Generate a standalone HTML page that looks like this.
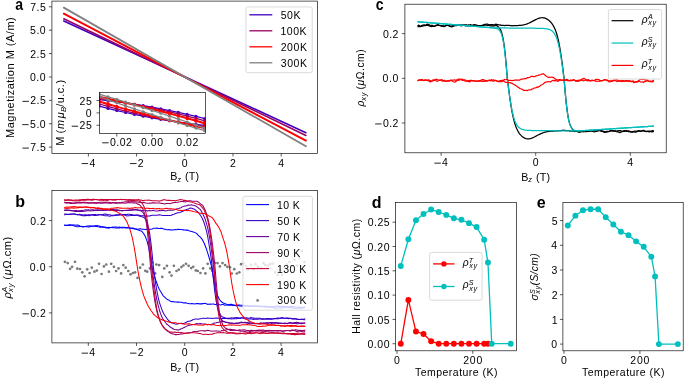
<!DOCTYPE html>
<html><head><meta charset="utf-8"><style>
html,body{margin:0;padding:0;background:#fff;}
svg{display:block;font-family:"Liberation Sans", sans-serif;will-change:transform;}
text{fill:#000;}
</style></head><body>
<svg width="685" height="379" viewBox="0 0 685 379">
<rect width="685" height="379" fill="#fff"/>
<defs>
<clipPath id="ca"><rect x="51.8" y="1.4" width="265.5" height="151.9"/></clipPath>
<clipPath id="cai"><rect x="99.5" y="92.5" width="106" height="41"/></clipPath>
<clipPath id="cb"><rect x="51.7" y="190.8" width="265.6" height="152.1"/></clipPath>
<clipPath id="cc"><rect x="405" y="3.8" width="261.5" height="149.2"/></clipPath>
<clipPath id="cd"><rect x="395.7" y="202.5" width="120.8" height="148.1"/></clipPath>
<clipPath id="ce"><rect x="562.8" y="202.5" width="120.4" height="148.1"/></clipPath>
</defs>

<g clip-path="url(#ca)">
<path d="M63.8,20.9 L305.9,132.7" fill="none" stroke="#4000c0" stroke-width="1.6" stroke-linejoin="round" stroke-linecap="round"/>
<path d="M63.8,18.8 L305.9,135.5" fill="none" stroke="#990066" stroke-width="1.6" stroke-linejoin="round" stroke-linecap="round"/>
<path d="M63.8,13.7 L305.9,140.6" fill="none" stroke="#ff0000" stroke-width="1.9" stroke-linejoin="round" stroke-linecap="round"/>
<path d="M63.8,7.6 L305.9,146.3" fill="none" stroke="#808080" stroke-width="1.8" stroke-linejoin="round" stroke-linecap="round"/>
</g>
<line x1="48.92" y1="6.81" x2="51.92" y2="6.81" stroke="#000" stroke-width="0.65"/>
<text x="30.2" y="10.94" font-size="10.51" letter-spacing="0.47" >7.5</text>
<line x1="48.92" y1="30.2" x2="51.92" y2="30.2" stroke="#000" stroke-width="0.65"/>
<text x="30.05" y="34.32" font-size="10.51" letter-spacing="0.53" >5.0</text>
<line x1="48.92" y1="53.59" x2="51.92" y2="53.59" stroke="#000" stroke-width="0.65"/>
<text x="30.2" y="57.71" font-size="10.51" letter-spacing="0.47" >2.5</text>
<line x1="48.92" y1="76.97" x2="51.92" y2="76.97" stroke="#000" stroke-width="0.65"/>
<text x="29.95" y="81.09" font-size="10.51" letter-spacing="0.58" >0.0</text>
<line x1="48.92" y1="100.35" x2="51.92" y2="100.35" stroke="#000" stroke-width="0.65"/>
<rect x="22.45" y="100.88" width="6.45" height="0.85" fill="#000"/>
<text x="30.2" y="104.48" font-size="10.51" letter-spacing="0.47" >2.5</text>
<line x1="48.92" y1="123.74" x2="51.92" y2="123.74" stroke="#000" stroke-width="0.65"/>
<rect x="22.2" y="124.26" width="6.45" height="0.85" fill="#000"/>
<text x="30.05" y="127.86" font-size="10.51" letter-spacing="0.53" >5.0</text>
<line x1="48.92" y1="147.12" x2="51.92" y2="147.12" stroke="#000" stroke-width="0.65"/>
<rect x="22.45" y="147.65" width="6.45" height="0.85" fill="#000"/>
<text x="30.2" y="151.25" font-size="10.51" letter-spacing="0.47" >7.5</text>
<line x1="88.4" y1="153.5" x2="88.4" y2="156.5" stroke="#000" stroke-width="0.65"/>
<rect x="81.68" y="163.2" width="6.45" height="0.85" fill="#000"/>
<text x="89.42" y="166.8" font-size="10.51" letter-spacing="0" >4</text>
<line x1="136.6" y1="153.5" x2="136.6" y2="156.5" stroke="#000" stroke-width="0.65"/>
<rect x="130.1" y="163.2" width="6.45" height="0.85" fill="#000"/>
<text x="137.85" y="166.8" font-size="10.51" letter-spacing="0" >2</text>
<line x1="184.8" y1="153.5" x2="184.8" y2="156.5" stroke="#000" stroke-width="0.65"/>
<text x="181.8" y="166.8" font-size="10.51" letter-spacing="0" >0</text>
<line x1="233" y1="153.5" x2="233" y2="156.5" stroke="#000" stroke-width="0.65"/>
<text x="230.12" y="166.8" font-size="10.51" letter-spacing="0" >2</text>
<line x1="281.2" y1="153.5" x2="281.2" y2="156.5" stroke="#000" stroke-width="0.65"/>
<text x="278.23" y="166.8" font-size="10.51" letter-spacing="0" >4</text>
<text x="170.22" y="180.2" font-size="10.71" letter-spacing="0" >B</text>
<text x="177.2" y="181.8" font-size="7.52" font-style="italic" letter-spacing="0" >z</text>
<text x="182.03" y="180.2" font-size="10.71" letter-spacing="0.12" > (T)</text>
<g transform="translate(14.4,77.6) rotate(-90)"><text x="-60.4" y="0" font-size="10.97" letter-spacing="0.52" >Magnetization M (A/m)</text></g>
<rect x="245.9" y="6.9" width="66.3" height="65.8" rx="2" fill="#fff" fill-opacity="0.8" stroke="#d6d6d6" stroke-width="0.9"/>
<line x1="249.4" y1="14.8" x2="272.3" y2="14.8" stroke="#4000c0" stroke-width="1.3"/>
<text x="280.8" y="18.57" font-size="10.51" letter-spacing="0.47" >50K</text>
<line x1="249.4" y1="30.8" x2="272.3" y2="30.8" stroke="#990066" stroke-width="1.3"/>
<text x="280.4" y="34.57" font-size="10.51" letter-spacing="0.55" >100K</text>
<line x1="249.4" y1="46.8" x2="272.3" y2="46.8" stroke="#ff0000" stroke-width="1.3"/>
<text x="280.7" y="50.57" font-size="10.51" letter-spacing="0.57" >200K</text>
<line x1="249.4" y1="62.8" x2="272.3" y2="62.8" stroke="#808080" stroke-width="1.3"/>
<text x="280.8" y="66.57" font-size="10.51" letter-spacing="0.53" >300K</text>
<rect x="51.92" y="1.09" width="265.58" height="152.41" fill="none" stroke="#000" stroke-width="0.65"/>
<text transform="translate(15.2,9.5) scale(0.88,1)" x="0" y="0" font-size="16" font-weight="bold">a</text>
<rect x="99.5" y="92.5" width="106" height="41" fill="#fff"/>
<g clip-path="url(#cai)">
<path d="M99.2,99.6 L108,100.6 L116.8,101.71 L125.6,102.92 L134.4,104.24 L143.2,105.67 L152,107.2 L160.8,108.84 L169.6,110.59 L178.4,112.44 L187.2,114.4 L196,116.47 L204.8,118.65" fill="none" stroke="#4000c0" stroke-width="1.25" stroke-linejoin="round" />
<circle cx="99.2" cy="99.6" r="1.6" fill="#4000c0"/>
<circle cx="108" cy="100.6" r="1.6" fill="#4000c0"/>
<circle cx="116.8" cy="101.71" r="1.6" fill="#4000c0"/>
<circle cx="125.6" cy="102.92" r="1.6" fill="#4000c0"/>
<circle cx="134.4" cy="104.24" r="1.6" fill="#4000c0"/>
<circle cx="143.2" cy="105.67" r="1.6" fill="#4000c0"/>
<circle cx="152" cy="107.2" r="1.6" fill="#4000c0"/>
<circle cx="160.8" cy="108.84" r="1.6" fill="#4000c0"/>
<circle cx="169.6" cy="110.59" r="1.6" fill="#4000c0"/>
<circle cx="178.4" cy="112.44" r="1.6" fill="#4000c0"/>
<circle cx="187.2" cy="114.4" r="1.6" fill="#4000c0"/>
<circle cx="196" cy="116.47" r="1.6" fill="#4000c0"/>
<circle cx="204.8" cy="118.65" r="1.6" fill="#4000c0"/>
<path d="M99.2,106.2 L108,108.42 L116.8,110.52 L125.6,112.51 L134.4,114.38 L143.2,116.15 L152,117.8 L160.8,119.34 L169.6,120.76 L178.4,122.08 L187.2,123.28 L196,124.36 L204.8,125.34" fill="none" stroke="#4000c0" stroke-width="1.25" stroke-linejoin="round" />
<circle cx="99.2" cy="106.2" r="1.6" fill="#4000c0"/>
<circle cx="108" cy="108.42" r="1.6" fill="#4000c0"/>
<circle cx="116.8" cy="110.52" r="1.6" fill="#4000c0"/>
<circle cx="125.6" cy="112.51" r="1.6" fill="#4000c0"/>
<circle cx="134.4" cy="114.38" r="1.6" fill="#4000c0"/>
<circle cx="143.2" cy="116.15" r="1.6" fill="#4000c0"/>
<circle cx="152" cy="117.8" r="1.6" fill="#4000c0"/>
<circle cx="160.8" cy="119.34" r="1.6" fill="#4000c0"/>
<circle cx="169.6" cy="120.76" r="1.6" fill="#4000c0"/>
<circle cx="178.4" cy="122.08" r="1.6" fill="#4000c0"/>
<circle cx="187.2" cy="123.28" r="1.6" fill="#4000c0"/>
<circle cx="196" cy="124.36" r="1.6" fill="#4000c0"/>
<circle cx="204.8" cy="125.34" r="1.6" fill="#4000c0"/>
<path d="M99.2,98.6 L108,99.9 L116.8,101.3 L125.6,102.8 L134.4,104.4 L143.2,106.1 L152,107.9 L160.8,109.8 L169.6,111.81 L178.4,113.91 L187.2,116.12 L196,118.42 L204.8,120.83" fill="none" stroke="#990066" stroke-width="1.25" stroke-linejoin="round" />
<circle cx="99.2" cy="98.6" r="1.6" fill="#990066"/>
<circle cx="108" cy="99.9" r="1.6" fill="#990066"/>
<circle cx="116.8" cy="101.3" r="1.6" fill="#990066"/>
<circle cx="125.6" cy="102.8" r="1.6" fill="#990066"/>
<circle cx="134.4" cy="104.4" r="1.6" fill="#990066"/>
<circle cx="143.2" cy="106.1" r="1.6" fill="#990066"/>
<circle cx="152" cy="107.9" r="1.6" fill="#990066"/>
<circle cx="160.8" cy="109.8" r="1.6" fill="#990066"/>
<circle cx="169.6" cy="111.81" r="1.6" fill="#990066"/>
<circle cx="178.4" cy="113.91" r="1.6" fill="#990066"/>
<circle cx="187.2" cy="116.12" r="1.6" fill="#990066"/>
<circle cx="196" cy="118.42" r="1.6" fill="#990066"/>
<circle cx="204.8" cy="120.83" r="1.6" fill="#990066"/>
<path d="M99.2,104 L108,106.45 L116.8,108.8 L125.6,111.04 L134.4,113.16 L143.2,115.19 L152,117.1 L160.8,118.91 L169.6,120.6 L178.4,122.19 L187.2,123.68 L196,125.05 L204.8,126.32" fill="none" stroke="#990066" stroke-width="1.25" stroke-linejoin="round" />
<circle cx="99.2" cy="104" r="1.6" fill="#990066"/>
<circle cx="108" cy="106.45" r="1.6" fill="#990066"/>
<circle cx="116.8" cy="108.8" r="1.6" fill="#990066"/>
<circle cx="125.6" cy="111.04" r="1.6" fill="#990066"/>
<circle cx="134.4" cy="113.16" r="1.6" fill="#990066"/>
<circle cx="143.2" cy="115.19" r="1.6" fill="#990066"/>
<circle cx="152" cy="117.1" r="1.6" fill="#990066"/>
<circle cx="160.8" cy="118.91" r="1.6" fill="#990066"/>
<circle cx="169.6" cy="120.6" r="1.6" fill="#990066"/>
<circle cx="178.4" cy="122.19" r="1.6" fill="#990066"/>
<circle cx="187.2" cy="123.68" r="1.6" fill="#990066"/>
<circle cx="196" cy="125.05" r="1.6" fill="#990066"/>
<circle cx="204.8" cy="126.32" r="1.6" fill="#990066"/>
<path d="M99.2,96.4 L108,98.32 L116.8,100.3 L125.6,102.32 L134.4,104.4 L143.2,106.52 L152,108.7 L160.8,110.93 L169.6,113.21 L178.4,115.54 L187.2,117.92 L196,120.35 L204.8,122.83" fill="none" stroke="#ff0000" stroke-width="1.25" stroke-linejoin="round" />
<circle cx="99.2" cy="96.4" r="1.6" fill="#ff0000"/>
<circle cx="108" cy="98.32" r="1.6" fill="#ff0000"/>
<circle cx="116.8" cy="100.3" r="1.6" fill="#ff0000"/>
<circle cx="125.6" cy="102.32" r="1.6" fill="#ff0000"/>
<circle cx="134.4" cy="104.4" r="1.6" fill="#ff0000"/>
<circle cx="143.2" cy="106.52" r="1.6" fill="#ff0000"/>
<circle cx="152" cy="108.7" r="1.6" fill="#ff0000"/>
<circle cx="160.8" cy="110.93" r="1.6" fill="#ff0000"/>
<circle cx="169.6" cy="113.21" r="1.6" fill="#ff0000"/>
<circle cx="178.4" cy="115.54" r="1.6" fill="#ff0000"/>
<circle cx="187.2" cy="117.92" r="1.6" fill="#ff0000"/>
<circle cx="196" cy="120.35" r="1.6" fill="#ff0000"/>
<circle cx="204.8" cy="122.83" r="1.6" fill="#ff0000"/>
<path d="M99.2,102 L108,104.53 L116.8,107 L125.6,109.42 L134.4,111.77 L143.2,114.06 L152,116.3 L160.8,118.48 L169.6,120.59 L178.4,122.65 L187.2,124.65 L196,126.59 L204.8,128.47" fill="none" stroke="#ff0000" stroke-width="1.25" stroke-linejoin="round" />
<circle cx="99.2" cy="102" r="1.6" fill="#ff0000"/>
<circle cx="108" cy="104.53" r="1.6" fill="#ff0000"/>
<circle cx="116.8" cy="107" r="1.6" fill="#ff0000"/>
<circle cx="125.6" cy="109.42" r="1.6" fill="#ff0000"/>
<circle cx="134.4" cy="111.77" r="1.6" fill="#ff0000"/>
<circle cx="143.2" cy="114.06" r="1.6" fill="#ff0000"/>
<circle cx="152" cy="116.3" r="1.6" fill="#ff0000"/>
<circle cx="160.8" cy="118.48" r="1.6" fill="#ff0000"/>
<circle cx="169.6" cy="120.59" r="1.6" fill="#ff0000"/>
<circle cx="178.4" cy="122.65" r="1.6" fill="#ff0000"/>
<circle cx="187.2" cy="124.65" r="1.6" fill="#ff0000"/>
<circle cx="196" cy="126.59" r="1.6" fill="#ff0000"/>
<circle cx="204.8" cy="128.47" r="1.6" fill="#ff0000"/>
<path d="M99.2,97.6 L108,99.35 L116.8,101.19 L125.6,103.1 L134.4,105.09 L143.2,107.15 L152,109.3 L160.8,111.52 L169.6,113.83 L178.4,116.21 L187.2,118.67 L196,121.2 L204.8,123.82" fill="none" stroke="#ff0000" stroke-width="1.25" stroke-linejoin="round" />
<circle cx="99.2" cy="97.6" r="1.6" fill="#ff0000"/>
<circle cx="108" cy="99.35" r="1.6" fill="#ff0000"/>
<circle cx="116.8" cy="101.19" r="1.6" fill="#ff0000"/>
<circle cx="125.6" cy="103.1" r="1.6" fill="#ff0000"/>
<circle cx="134.4" cy="105.09" r="1.6" fill="#ff0000"/>
<circle cx="143.2" cy="107.15" r="1.6" fill="#ff0000"/>
<circle cx="152" cy="109.3" r="1.6" fill="#ff0000"/>
<circle cx="160.8" cy="111.52" r="1.6" fill="#ff0000"/>
<circle cx="169.6" cy="113.83" r="1.6" fill="#ff0000"/>
<circle cx="178.4" cy="116.21" r="1.6" fill="#ff0000"/>
<circle cx="187.2" cy="118.67" r="1.6" fill="#ff0000"/>
<circle cx="196" cy="121.2" r="1.6" fill="#ff0000"/>
<circle cx="204.8" cy="123.82" r="1.6" fill="#ff0000"/>
<path d="M99.2,101 L108,103.67 L116.8,106.25 L125.6,108.74 L134.4,111.15 L143.2,113.47 L152,115.7 L160.8,117.85 L169.6,119.91 L178.4,121.88 L187.2,123.77 L196,125.57 L204.8,127.29" fill="none" stroke="#ff0000" stroke-width="1.25" stroke-linejoin="round" />
<circle cx="99.2" cy="101" r="1.6" fill="#ff0000"/>
<circle cx="108" cy="103.67" r="1.6" fill="#ff0000"/>
<circle cx="116.8" cy="106.25" r="1.6" fill="#ff0000"/>
<circle cx="125.6" cy="108.74" r="1.6" fill="#ff0000"/>
<circle cx="134.4" cy="111.15" r="1.6" fill="#ff0000"/>
<circle cx="143.2" cy="113.47" r="1.6" fill="#ff0000"/>
<circle cx="152" cy="115.7" r="1.6" fill="#ff0000"/>
<circle cx="160.8" cy="117.85" r="1.6" fill="#ff0000"/>
<circle cx="169.6" cy="119.91" r="1.6" fill="#ff0000"/>
<circle cx="178.4" cy="121.88" r="1.6" fill="#ff0000"/>
<circle cx="187.2" cy="123.77" r="1.6" fill="#ff0000"/>
<circle cx="196" cy="125.57" r="1.6" fill="#ff0000"/>
<circle cx="204.8" cy="127.29" r="1.6" fill="#ff0000"/>
<path d="M99.2,94.2 L108,96.8 L116.8,99.43 L125.6,102.11 L134.4,104.83 L143.2,107.6 L152,110.4 L160.8,113.24 L169.6,116.13 L178.4,119.06 L187.2,122.03 L196,125.04 L204.8,128.09" fill="none" stroke="#808080" stroke-width="1.25" stroke-linejoin="round" />
<circle cx="99.2" cy="94.2" r="1.6" fill="#808080"/>
<circle cx="108" cy="96.8" r="1.6" fill="#808080"/>
<circle cx="116.8" cy="99.43" r="1.6" fill="#808080"/>
<circle cx="125.6" cy="102.11" r="1.6" fill="#808080"/>
<circle cx="134.4" cy="104.83" r="1.6" fill="#808080"/>
<circle cx="143.2" cy="107.6" r="1.6" fill="#808080"/>
<circle cx="152" cy="110.4" r="1.6" fill="#808080"/>
<circle cx="160.8" cy="113.24" r="1.6" fill="#808080"/>
<circle cx="169.6" cy="116.13" r="1.6" fill="#808080"/>
<circle cx="178.4" cy="119.06" r="1.6" fill="#808080"/>
<circle cx="187.2" cy="122.03" r="1.6" fill="#808080"/>
<circle cx="196" cy="125.04" r="1.6" fill="#808080"/>
<circle cx="204.8" cy="128.09" r="1.6" fill="#808080"/>
<path d="M99.2,96.7 L108,99.81 L116.8,102.87 L125.6,105.88 L134.4,108.84 L143.2,111.75 L152,114.6 L160.8,117.4 L169.6,120.15 L178.4,122.85 L187.2,125.49 L196,128.09 L204.8,130.63" fill="none" stroke="#808080" stroke-width="1.25" stroke-linejoin="round" />
<circle cx="99.2" cy="96.7" r="1.6" fill="#808080"/>
<circle cx="108" cy="99.81" r="1.6" fill="#808080"/>
<circle cx="116.8" cy="102.87" r="1.6" fill="#808080"/>
<circle cx="125.6" cy="105.88" r="1.6" fill="#808080"/>
<circle cx="134.4" cy="108.84" r="1.6" fill="#808080"/>
<circle cx="143.2" cy="111.75" r="1.6" fill="#808080"/>
<circle cx="152" cy="114.6" r="1.6" fill="#808080"/>
<circle cx="160.8" cy="117.4" r="1.6" fill="#808080"/>
<circle cx="169.6" cy="120.15" r="1.6" fill="#808080"/>
<circle cx="178.4" cy="122.85" r="1.6" fill="#808080"/>
<circle cx="187.2" cy="125.49" r="1.6" fill="#808080"/>
<circle cx="196" cy="128.09" r="1.6" fill="#808080"/>
<circle cx="204.8" cy="130.63" r="1.6" fill="#808080"/>
</g>
<rect x="99.5" y="92.5" width="106" height="41" fill="none" stroke="#000" stroke-width="0.65"/>
<line x1="96.5" y1="100.55" x2="99.5" y2="100.55" stroke="#000" stroke-width="0.65"/>
<text x="79.45" y="104.67" font-size="10.51" letter-spacing="0.6" >25</text>
<line x1="96.5" y1="112.9" x2="99.5" y2="112.9" stroke="#000" stroke-width="0.65"/>
<text x="85.7" y="117.02" font-size="10.51" letter-spacing="0" >0</text>
<line x1="96.5" y1="125.25" x2="99.5" y2="125.25" stroke="#000" stroke-width="0.65"/>
<rect x="71.7" y="125.77" width="6.45" height="0.85" fill="#000"/>
<text x="79.45" y="129.37" font-size="10.51" letter-spacing="0.6" >25</text>
<line x1="116.8" y1="133.5" x2="116.8" y2="136.5" stroke="#000" stroke-width="0.65"/>
<rect x="102.2" y="142.4" width="6.45" height="0.85" fill="#000"/>
<text x="109.95" y="146" font-size="10.51" letter-spacing="0.52" >0.02</text>
<line x1="152" y1="133.5" x2="152" y2="136.5" stroke="#000" stroke-width="0.65"/>
<text x="140.9" y="146" font-size="10.51" letter-spacing="0.58" >0.00</text>
<line x1="187.2" y1="133.5" x2="187.2" y2="136.5" stroke="#000" stroke-width="0.65"/>
<text x="176.27" y="146" font-size="10.51" letter-spacing="0.52" >0.02</text>
<g transform="translate(64,112.7) rotate(-90)"><text x="-32.99" y="0" font-size="10.97" letter-spacing="0" >M (</text>
<text x="-16.21" y="0" font-size="10.97" font-style="italic" letter-spacing="1.5" >mμ</text>
<text x="0.69" y="1.7" font-size="7.73" font-style="italic" letter-spacing="0" >B</text>
<text x="5.89" y="0" font-size="10.97" letter-spacing="0.5" >/u.c.)</text></g>
<g clip-path="url(#cb)">
<circle cx="64.9" cy="261.8" r="1.35" fill="#7a7a7a"/>
<circle cx="67.7" cy="263.1" r="1.35" fill="#7a7a7a"/>
<circle cx="70.1" cy="268.8" r="1.35" fill="#7a7a7a"/>
<circle cx="72.1" cy="266.8" r="1.35" fill="#7a7a7a"/>
<circle cx="75" cy="261.8" r="1.35" fill="#7a7a7a"/>
<circle cx="77.3" cy="268.7" r="1.35" fill="#7a7a7a"/>
<circle cx="80" cy="269" r="1.35" fill="#7a7a7a"/>
<circle cx="82.3" cy="272.3" r="1.35" fill="#7a7a7a"/>
<circle cx="84.6" cy="276.3" r="1.35" fill="#7a7a7a"/>
<circle cx="87.2" cy="269.3" r="1.35" fill="#7a7a7a"/>
<circle cx="89.6" cy="273" r="1.35" fill="#7a7a7a"/>
<circle cx="91.8" cy="267.7" r="1.35" fill="#7a7a7a"/>
<circle cx="94.4" cy="271.7" r="1.35" fill="#7a7a7a"/>
<circle cx="96.8" cy="270.6" r="1.35" fill="#7a7a7a"/>
<circle cx="99" cy="263.8" r="1.35" fill="#7a7a7a"/>
<circle cx="101.6" cy="274" r="1.35" fill="#7a7a7a"/>
<circle cx="103.9" cy="266.4" r="1.35" fill="#7a7a7a"/>
<circle cx="106.2" cy="264.5" r="1.35" fill="#7a7a7a"/>
<circle cx="108.9" cy="271.7" r="1.35" fill="#7a7a7a"/>
<circle cx="111.2" cy="263.8" r="1.35" fill="#7a7a7a"/>
<circle cx="113.9" cy="266.8" r="1.35" fill="#7a7a7a"/>
<circle cx="116.1" cy="271" r="1.35" fill="#7a7a7a"/>
<circle cx="118.5" cy="268.4" r="1.35" fill="#7a7a7a"/>
<circle cx="121.1" cy="273.4" r="1.35" fill="#7a7a7a"/>
<circle cx="123.3" cy="265.1" r="1.35" fill="#7a7a7a"/>
<circle cx="125.7" cy="267.7" r="1.35" fill="#7a7a7a"/>
<circle cx="128.3" cy="271" r="1.35" fill="#7a7a7a"/>
<circle cx="130.5" cy="274.3" r="1.35" fill="#7a7a7a"/>
<circle cx="132.9" cy="273" r="1.35" fill="#7a7a7a"/>
<circle cx="135.1" cy="272.3" r="1.35" fill="#7a7a7a"/>
<circle cx="137.5" cy="277.9" r="1.35" fill="#7a7a7a"/>
<circle cx="140.1" cy="267.7" r="1.35" fill="#7a7a7a"/>
<circle cx="142.8" cy="264.5" r="1.35" fill="#7a7a7a"/>
<circle cx="145.3" cy="270.8" r="1.35" fill="#7a7a7a"/>
<circle cx="147.2" cy="271.7" r="1.35" fill="#7a7a7a"/>
<circle cx="149.9" cy="268.4" r="1.35" fill="#7a7a7a"/>
<circle cx="152.5" cy="262.5" r="1.35" fill="#7a7a7a"/>
<circle cx="155.1" cy="273.4" r="1.35" fill="#7a7a7a"/>
<circle cx="156.4" cy="264.5" r="1.35" fill="#7a7a7a"/>
<circle cx="159.1" cy="265.1" r="1.35" fill="#7a7a7a"/>
<circle cx="162.3" cy="276.9" r="1.35" fill="#7a7a7a"/>
<circle cx="164.3" cy="268.4" r="1.35" fill="#7a7a7a"/>
<circle cx="166.9" cy="265.8" r="1.35" fill="#7a7a7a"/>
<circle cx="169.6" cy="272.3" r="1.35" fill="#7a7a7a"/>
<circle cx="171.5" cy="275.6" r="1.35" fill="#7a7a7a"/>
<circle cx="173.9" cy="265.8" r="1.35" fill="#7a7a7a"/>
<circle cx="176.5" cy="271" r="1.35" fill="#7a7a7a"/>
<circle cx="178.8" cy="269.7" r="1.35" fill="#7a7a7a"/>
<circle cx="181.4" cy="267.1" r="1.35" fill="#7a7a7a"/>
<circle cx="183.4" cy="265.5" r="1.35" fill="#7a7a7a"/>
<circle cx="186" cy="263.8" r="1.35" fill="#7a7a7a"/>
<circle cx="188.6" cy="265.8" r="1.35" fill="#7a7a7a"/>
<circle cx="191.2" cy="268.1" r="1.35" fill="#7a7a7a"/>
<circle cx="193.2" cy="266.8" r="1.35" fill="#7a7a7a"/>
<circle cx="195.8" cy="270.4" r="1.35" fill="#7a7a7a"/>
<circle cx="197.8" cy="271" r="1.35" fill="#7a7a7a"/>
<circle cx="200.4" cy="273" r="1.35" fill="#7a7a7a"/>
<circle cx="203.1" cy="268.4" r="1.35" fill="#7a7a7a"/>
<circle cx="205.4" cy="273.4" r="1.35" fill="#7a7a7a"/>
<circle cx="207.7" cy="263.8" r="1.35" fill="#7a7a7a"/>
<circle cx="210.3" cy="268.4" r="1.35" fill="#7a7a7a"/>
<circle cx="212.3" cy="270.8" r="1.35" fill="#7a7a7a"/>
<circle cx="214.9" cy="263.1" r="1.35" fill="#7a7a7a"/>
<circle cx="217.5" cy="263.1" r="1.35" fill="#7a7a7a"/>
<circle cx="219.9" cy="266.4" r="1.35" fill="#7a7a7a"/>
<circle cx="222.5" cy="263.1" r="1.35" fill="#7a7a7a"/>
<circle cx="225.1" cy="265.1" r="1.35" fill="#7a7a7a"/>
<circle cx="227.4" cy="266.8" r="1.35" fill="#7a7a7a"/>
<circle cx="230" cy="267.3" r="1.35" fill="#7a7a7a"/>
<circle cx="231.8" cy="273.5" r="1.35" fill="#7a7a7a"/>
<circle cx="234.3" cy="269.2" r="1.35" fill="#7a7a7a"/>
<circle cx="236.8" cy="273.5" r="1.35" fill="#7a7a7a"/>
<circle cx="239.3" cy="272.3" r="1.35" fill="#7a7a7a"/>
<circle cx="241.1" cy="264.2" r="1.35" fill="#7a7a7a"/>
<circle cx="243.6" cy="263.6" r="1.35" fill="#7a7a7a"/>
<circle cx="246" cy="266" r="1.35" fill="#7a7a7a"/>
<circle cx="248" cy="269.8" r="1.35" fill="#7a7a7a"/>
<circle cx="251.1" cy="264.9" r="1.35" fill="#7a7a7a"/>
<circle cx="253.5" cy="269.2" r="1.35" fill="#7a7a7a"/>
<circle cx="255.4" cy="264.2" r="1.35" fill="#7a7a7a"/>
<circle cx="257.9" cy="266.7" r="1.35" fill="#7a7a7a"/>
<circle cx="261" cy="268" r="1.35" fill="#7a7a7a"/>
<circle cx="263.5" cy="263" r="1.35" fill="#7a7a7a"/>
<circle cx="265.3" cy="264.9" r="1.35" fill="#7a7a7a"/>
<circle cx="267.8" cy="265.5" r="1.35" fill="#7a7a7a"/>
<circle cx="270.3" cy="264.2" r="1.35" fill="#7a7a7a"/>
<circle cx="272.8" cy="263.6" r="1.35" fill="#7a7a7a"/>
<circle cx="275.2" cy="272.3" r="1.35" fill="#7a7a7a"/>
<circle cx="277.7" cy="274.8" r="1.35" fill="#7a7a7a"/>
<circle cx="280" cy="270" r="1.35" fill="#7a7a7a"/>
<circle cx="282.1" cy="274.8" r="1.35" fill="#7a7a7a"/>
<circle cx="284.6" cy="268" r="1.35" fill="#7a7a7a"/>
<circle cx="287" cy="264.5" r="1.35" fill="#7a7a7a"/>
<circle cx="289.5" cy="262" r="1.35" fill="#7a7a7a"/>
<circle cx="292" cy="266" r="1.35" fill="#7a7a7a"/>
<circle cx="294.5" cy="259.9" r="1.35" fill="#7a7a7a"/>
<circle cx="297" cy="265.5" r="1.35" fill="#7a7a7a"/>
<circle cx="299.5" cy="258" r="1.35" fill="#7a7a7a"/>
<circle cx="301.9" cy="251.2" r="1.35" fill="#7a7a7a"/>
<circle cx="304.5" cy="262" r="1.35" fill="#7a7a7a"/>
<path d="M64.2,225.24 L65.4,225.2 L66.61,225.27 L67.81,225.25 L69.02,225.52 L70.22,225.27 L71.43,225.19 L72.63,225.34 L73.84,225.74 L75.04,226.26 L76.25,226.5 L77.45,226.69 L78.66,226.72 L79.86,226.49 L81.07,226.59 L82.27,226.83 L83.48,226.91 L84.68,226.6 L85.89,226.47 L87.09,226.07 L88.3,225.94 L89.5,225.84 L90.71,225.98 L91.91,226.24 L93.12,226.24 L94.32,226.35 L95.53,226.36 L96.73,226.25 L97.94,226.67 L99.14,226.97 L100.35,227.3 L101.55,227.04 L102.76,227.1 L103.96,227.04 L105.17,227 L106.37,227.4 L107.58,227.48 L108.78,227.23 L109.99,227.46 L111.19,227.47 L112.4,227.74 L113.6,227.79 L114.81,227.79 L116.01,227.92 L117.22,227.96 L118.42,227.88 L119.63,228.03 L120.83,227.58 L122.04,227.33 L123.24,227.29 L124.45,227.18 L125.66,227.53 L126.86,227.46 L128.06,227.36 L129.27,227.63 L130.47,228 L131.68,228.37 L132.88,228.75 L134.09,228.64 L135.29,229.05 L136.5,229.12 L137.7,229.23 L138.91,228.93 L140.12,228.8 L141.32,228.96 L142.52,229.26 L143.73,229.16 L144.94,229.55 L146.14,229.44 L147.34,229.08 L148.55,228.98 L149.75,229.24 L150.96,229.34 L152.16,228.99 L153.37,228.34 L154.57,228.35 L155.78,228.18 L156.98,227.94 L158.19,228.42 L159.39,228.44 L160.6,228.35 L161.8,228.35 L163.01,228.8 L164.22,229.23 L165.42,229.23 L166.62,229.68 L167.83,229.85 L169.03,229.46 L170.24,229.95 L171.44,229.89 L172.65,229.93 L173.85,229.68 L175.06,229.57 L176.26,229.66 L177.47,229.39 L178.67,229.23 L179.88,229.58 L181.09,229.5 L182.29,229.68 L183.5,229.86 L184.7,230.09 L185.91,230.11 L187.11,230.12 L188.31,230.38 L189.52,231.02 L190.72,231.18 L191.93,231.44 L193.13,232.05 L194.34,232.28 L195.54,232.89 L196.75,233.56 L197.96,234.92 L199.16,236.08 L200.37,237.11 L201.57,238.55 L202.77,240.4 L203.98,242.69 L205.19,245.73 L206.39,248.8 L207.59,252.61 L208.8,256.5 L210,260.7 L211.21,265.28 L212.41,271.91 L213.62,279.21 L214.82,285.55 L216.03,290.46 L217.24,294.45 L218.44,297.59 L219.64,299.75 L220.85,301.28 L222.06,302.25 L223.26,303.02 L224.47,303.58 L225.67,303.7 L226.88,304.72 L228.08,305.14 L229.28,305.16 L230.49,305.13 L231.69,305.17 L232.9,305.47 L234.11,305.37 L235.31,305.44 L236.51,305.9 L237.72,305.1 L238.92,304.9 L240.13,305.08 L241.34,305.22 L242.54,305.34 L243.75,305.33 L244.95,305.94 L246.16,306.12 L247.36,305.91 L248.56,306.56 L249.77,306.68 L250.97,306.47 L252.18,306.36 L253.38,306.11 L254.59,306.44 L255.8,306.08 L257,306.1 L258.21,306.21 L259.41,305.88 L260.62,306.37 L261.82,306.39 L263.02,306.83 L264.23,307.01 L265.44,307.02 L266.64,306.98 L267.85,306.76 L269.05,306.94 L270.25,307.14 L271.46,306.59 L272.67,306.8 L273.87,306.62 L275.07,306.52 L276.28,306.14 L277.49,306.26 L278.69,306.04 L279.9,306.26 L281.1,306.18 L282.31,306.41 L283.51,306.46 L284.72,306.37 L285.92,306.64 L287.12,306.75 L288.33,307.01 L289.53,307.77 L290.74,307.52 L291.95,307.89 L293.15,308.06 L294.36,308.38 L295.56,308.33 L296.76,308.29 L297.97,308.19 L299.18,308.14 L300.38,307.93 L301.59,308.27 L302.79,308.03 L304,307.63 L305.2,307.58" fill="none" stroke="#0000ff" stroke-width="1.05" stroke-linejoin="round" />
<path d="M64.2,225.11 L65.4,225.17 L66.61,225.56 L67.81,225.38 L69.02,224.84 L70.22,224.88 L71.43,224.94 L72.63,225.01 L73.84,224.95 L75.04,225.05 L76.25,225.32 L77.45,224.96 L78.66,225.24 L79.86,225.93 L81.07,226.28 L82.27,226.61 L83.48,226.4 L84.68,226.56 L85.89,226.73 L87.09,226.8 L88.3,226.94 L89.5,226.93 L90.71,226.37 L91.91,226.36 L93.12,225.91 L94.32,225.85 L95.53,225.67 L96.73,225.73 L97.94,225.62 L99.14,226.13 L100.35,226.37 L101.55,226.98 L102.76,226.83 L103.96,227.26 L105.17,227.56 L106.37,227.91 L107.58,227.85 L108.78,228.15 L109.99,227.83 L111.19,227.39 L112.4,227.1 L113.6,227.24 L114.81,226.91 L116.01,226.98 L117.22,227.21 L118.42,227.35 L119.63,227.11 L120.83,227.48 L122.04,227.93 L123.24,227.81 L124.45,227.82 L125.66,228.03 L126.86,227.91 L128.06,227.72 L129.27,227.89 L130.47,228.39 L131.68,228.29 L132.88,228.12 L134.09,228.48 L135.29,228.89 L136.5,229.19 L137.7,229.81 L138.91,230.18 L140.12,230.64 L141.32,230.97 L142.52,232.22 L143.73,233.7 L144.94,235.69 L146.14,238.65 L147.34,242.2 L148.55,246.96 L149.75,253.48 L150.96,260.57 L152.16,267.6 L153.37,271.87 L154.57,276.22 L155.78,280.13 L156.98,283.47 L158.19,286.89 L159.39,289.53 L160.6,291.53 L161.8,293.39 L163.01,295.52 L164.22,296.71 L165.42,297.77 L166.62,298.88 L167.83,299.83 L169.03,300.16 L170.24,301.18 L171.44,301.61 L172.65,301.59 L173.85,301.66 L175.06,301.91 L176.26,301.99 L177.47,302.11 L178.67,302.06 L179.88,302.34 L181.09,302.29 L182.29,302.47 L183.5,302.91 L184.7,302.68 L185.91,302.87 L187.11,303.28 L188.31,303.49 L189.52,303.7 L190.72,303.75 L191.93,303.64 L193.13,303.81 L194.34,304.06 L195.54,303.79 L196.75,303.64 L197.96,303.55 L199.16,303.86 L200.37,303.74 L201.57,303.86 L202.77,303.64 L203.98,303.47 L205.19,303.38 L206.39,303.79 L207.59,304.36 L208.8,304.34 L210,303.89 L211.21,304.16 L212.41,304.07 L213.62,304.09 L214.82,304.45 L216.03,304.6 L217.24,304.68 L218.44,304.37 L219.64,304.66 L220.85,304.92 L222.06,304.49 L223.26,304.59 L224.47,305.14 L225.67,305.18 L226.88,304.82 L228.08,304.75 L229.28,304.52 L230.49,304.36 L231.69,304.39 L232.9,304.75 L234.11,305.34 L235.31,305.31 L236.51,305.14 L237.72,305.38 L238.92,305.72 L240.13,306.09 L241.34,306.2 L242.54,306.04 L243.75,306.02 L244.95,305.66 L246.16,305.64 L247.36,305.54 L248.56,305.67 L249.77,305.73 L250.97,305.86 L252.18,305.98 L253.38,306.11 L254.59,306.24 L255.8,306.32 L257,306.28 L258.21,306.49 L259.41,306.75 L260.62,306.59 L261.82,306.35 L263.02,306.32 L264.23,306.38 L265.44,306.38 L266.64,306.59 L267.85,306.99 L269.05,307 L270.25,306.99 L271.46,306.98 L272.67,307.39 L273.87,307.95 L275.07,308.14 L276.28,308 L277.49,307.95 L278.69,307.9 L279.9,308.09 L281.1,307.89 L282.31,307.98 L283.51,307.81 L284.72,307.16 L285.92,306.91 L287.12,307.23 L288.33,307.11 L289.53,306.64 L290.74,306.39 L291.95,306.36 L293.15,306.67 L294.36,306.77 L295.56,306.94 L296.76,307.16 L297.97,307.02 L299.18,307.07 L300.38,307.24 L301.59,307.49 L302.79,307.28 L304,306.93 L305.2,306.99" fill="none" stroke="#0000ff" stroke-width="1.05" stroke-linejoin="round" />
<path d="M64.2,214.1 L65.4,213.93 L66.61,214.24 L67.81,214.18 L69.02,214.18 L70.22,214.26 L71.43,214.23 L72.63,214.03 L73.84,214.1 L75.04,214.05 L76.25,214.43 L77.45,214.67 L78.66,214.68 L79.86,215.07 L81.07,215.24 L82.27,215.62 L83.48,215.75 L84.68,215.61 L85.89,215.64 L87.09,215.47 L88.3,215.41 L89.5,215.65 L90.71,215.1 L91.91,214.94 L93.12,214.42 L94.32,214.46 L95.53,214.59 L96.73,214.99 L97.94,214.86 L99.14,214.66 L100.35,214.75 L101.55,215.07 L102.76,215.05 L103.96,215.54 L105.17,215.7 L106.37,215.85 L107.58,215.66 L108.78,216.03 L109.99,216.19 L111.19,215.83 L112.4,215.71 L113.6,215.7 L114.81,215.16 L116.01,214.65 L117.22,214.7 L118.42,214.68 L119.63,214.63 L120.83,214.82 L122.04,214.88 L123.24,214.99 L124.45,215.03 L125.66,215.55 L126.86,215.96 L128.06,215.75 L129.27,215.7 L130.47,215.58 L131.68,215.41 L132.88,215.53 L134.09,215.41 L135.29,215.44 L136.5,215.19 L137.7,215.1 L138.91,215.13 L140.12,215.56 L141.32,215.68 L142.52,215.66 L143.73,215.79 L144.94,215.88 L146.14,215.92 L147.34,216.14 L148.55,216.07 L149.75,216.1 L150.96,215.57 L152.16,215.3 L153.37,215.32 L154.57,215.21 L155.78,215.27 L156.98,215.31 L158.19,214.96 L159.39,214.87 L160.6,214.94 L161.8,215.24 L163.01,215.4 L164.22,215.5 L165.42,215.53 L166.62,215.49 L167.83,215.52 L169.03,215.56 L170.24,215.43 L171.44,215.27 L172.65,214.49 L173.85,214.3 L175.06,213.76 L176.26,213.28 L177.47,212.75 L178.67,212.7 L179.88,212.43 L181.09,212.03 L182.29,211.39 L183.5,210.9 L184.7,210.32 L185.91,209.84 L187.11,209.33 L188.31,209.04 L189.52,208.33 L190.72,208.14 L191.93,208.15 L193.13,208.65 L194.34,209.25 L195.54,210.08 L196.75,211.08 L197.96,211.92 L199.16,213.45 L200.37,215.18 L201.57,216.97 L202.77,219.51 L203.98,222.47 L205.19,226.31 L206.39,230.54 L207.59,235.94 L208.8,242.99 L210,250.31 L211.21,258.67 L212.41,268.83 L213.62,281.27 L214.82,292.03 L216.03,300.29 L217.24,306.6 L218.44,310.74 L219.64,313.38 L220.85,315.51 L222.06,316.74 L223.26,317.18 L224.47,317.63 L225.67,317.92 L226.88,318.17 L228.08,318.16 L229.28,318.28 L230.49,317.98 L231.69,317.69 L232.9,317.92 L234.11,317.77 L235.31,317.77 L236.51,317.53 L237.72,317.78 L238.92,317.79 L240.13,318.14 L241.34,318.1 L242.54,318.06 L243.75,318.18 L244.95,318.83 L246.16,319.11 L247.36,319.04 L248.56,319.02 L249.77,319.02 L250.97,318.78 L252.18,319.11 L253.38,319.53 L254.59,319.32 L255.8,319.31 L257,319.05 L258.21,319.21 L259.41,319.05 L260.62,319.08 L261.82,319.19 L263.02,319.14 L264.23,319.04 L265.44,318.79 L266.64,318.42 L267.85,318.43 L269.05,318.56 L270.25,318.77 L271.46,318.89 L272.67,318.8 L273.87,318.78 L275.07,318.61 L276.28,318.79 L277.49,318.56 L278.69,318.67 L279.9,318.59 L281.1,318 L282.31,318.16 L283.51,318.19 L284.72,318.22 L285.92,318.28 L287.12,318.31 L288.33,318.71 L289.53,318.53 L290.74,318.53 L291.95,318.88 L293.15,318.88 L294.36,318.95 L295.56,318.98 L296.76,319.19 L297.97,319.44 L299.18,319.29 L300.38,319.47 L301.59,319.37 L302.79,319.38 L304,319.01 L305.2,318.78" fill="none" stroke="#3300cc" stroke-width="1.05" stroke-linejoin="round" />
<path d="M64.2,214.91 L65.4,214.58 L66.61,214.44 L67.81,214.41 L69.02,214.52 L70.22,214.17 L71.43,214.1 L72.63,214.08 L73.84,214.05 L75.04,214.17 L76.25,214.49 L77.45,214.7 L78.66,214.48 L79.86,214.31 L81.07,214.87 L82.27,214.8 L83.48,214.98 L84.68,214.79 L85.89,214.73 L87.09,214.98 L88.3,214.72 L89.5,214.72 L90.71,214.97 L91.91,214.85 L93.12,215.21 L94.32,215.4 L95.53,215.42 L96.73,215.2 L97.94,214.88 L99.14,214.8 L100.35,214.68 L101.55,214.67 L102.76,214.62 L103.96,214.3 L105.17,214.01 L106.37,214.24 L107.58,214.73 L108.78,214.75 L109.99,214.76 L111.19,215.36 L112.4,215.31 L113.6,215.29 L114.81,215.31 L116.01,215.42 L117.22,215.27 L118.42,215.13 L119.63,215.01 L120.83,214.82 L122.04,214.66 L123.24,214.49 L124.45,214.53 L125.66,214.6 L126.86,214.46 L128.06,214.19 L129.27,214.2 L130.47,214.4 L131.68,214.61 L132.88,214.81 L134.09,214.97 L135.29,214.98 L136.5,214.97 L137.7,215.35 L138.91,216.05 L140.12,216.14 L141.32,216.36 L142.52,216.94 L143.73,217.26 L144.94,218.48 L146.14,220.35 L147.34,223.27 L148.55,227.83 L149.75,234.15 L150.96,243.11 L152.16,254.24 L153.37,266.84 L154.57,276.01 L155.78,284.38 L156.98,291.49 L158.19,297.43 L159.39,302.34 L160.6,305.95 L161.8,309.4 L163.01,312.28 L164.22,314.48 L165.42,316.25 L166.62,317.94 L167.83,319.71 L169.03,321.06 L170.24,321.81 L171.44,322.94 L172.65,323.06 L173.85,323.56 L175.06,323.92 L176.26,324.16 L177.47,323.96 L178.67,323.27 L179.88,323.4 L181.09,323.31 L182.29,323.62 L183.5,323.49 L184.7,323.11 L185.91,322.49 L187.11,321.78 L188.31,321.35 L189.52,321.21 L190.72,320.67 L191.93,320.37 L193.13,319.56 L194.34,319.31 L195.54,319.01 L196.75,318.96 L197.96,319.21 L199.16,318.93 L200.37,318.72 L201.57,318.59 L202.77,318.29 L203.98,318.17 L205.19,318.46 L206.39,318.2 L207.59,318.13 L208.8,318.25 L210,318.22 L211.21,318.25 L212.41,318.49 L213.62,318.34 L214.82,318.26 L216.03,317.91 L217.24,318.13 L218.44,318.24 L219.64,318.34 L220.85,318.36 L222.06,318.42 L223.26,318.21 L224.47,318.43 L225.67,318.47 L226.88,318.51 L228.08,318.61 L229.28,318.6 L230.49,318.7 L231.69,318.94 L232.9,318.84 L234.11,318.56 L235.31,318.69 L236.51,318.73 L237.72,318.58 L238.92,318.57 L240.13,318.45 L241.34,317.8 L242.54,317.73 L243.75,317.64 L244.95,317.99 L246.16,317.89 L247.36,317.89 L248.56,318.14 L249.77,317.9 L250.97,317.62 L252.18,318.02 L253.38,318.13 L254.59,318.26 L255.8,318.32 L257,318.27 L258.21,318.17 L259.41,318.24 L260.62,318.34 L261.82,319.01 L263.02,318.78 L264.23,318.94 L265.44,319.15 L266.64,319.07 L267.85,319.22 L269.05,319.18 L270.25,319.12 L271.46,319.28 L272.67,318.93 L273.87,318.79 L275.07,318.54 L276.28,318.36 L277.49,318.06 L278.69,317.95 L279.9,318.32 L281.1,317.91 L282.31,317.47 L283.51,317.91 L284.72,318.18 L285.92,318.12 L287.12,318.02 L288.33,318.12 L289.53,318.21 L290.74,318.18 L291.95,318.59 L293.15,318.79 L294.36,318.64 L295.56,318.81 L296.76,318.89 L297.97,319.38 L299.18,319.54 L300.38,319.58 L301.59,319.32 L302.79,319.46 L304,319.79 L305.2,319.68" fill="none" stroke="#3300cc" stroke-width="1.05" stroke-linejoin="round" />
<path d="M64.2,210.45 L65.4,210.12 L66.61,210.13 L67.81,210.14 L69.02,210.19 L70.22,210.62 L71.43,210.83 L72.63,210.71 L73.84,210.95 L75.04,210.48 L76.25,210.61 L77.45,210.8 L78.66,210.67 L79.86,210.72 L81.07,210.42 L82.27,210.42 L83.48,210.2 L84.68,209.93 L85.89,209.84 L87.09,210.11 L88.3,209.68 L89.5,209.96 L90.71,210.01 L91.91,209.8 L93.12,209.81 L94.32,210.06 L95.53,210.22 L96.73,210.5 L97.94,210.4 L99.14,210.37 L100.35,210.16 L101.55,210.06 L102.76,210.36 L103.96,210.21 L105.17,210.26 L106.37,210.16 L107.58,209.88 L108.78,209.9 L109.99,210.11 L111.19,210.29 L112.4,210.42 L113.6,210.31 L114.81,210.49 L116.01,210.63 L117.22,210.47 L118.42,210.59 L119.63,210.77 L120.83,210.6 L122.04,210.55 L123.24,210.57 L124.45,210.54 L125.66,210.38 L126.86,210.3 L128.06,210.3 L129.27,210.48 L130.47,209.93 L131.68,210.14 L132.88,209.9 L134.09,209.95 L135.29,209.96 L136.5,209.81 L137.7,210.12 L138.91,210.28 L140.12,210.05 L141.32,210.46 L142.52,210.49 L143.73,210.33 L144.94,210.21 L146.14,210.63 L147.34,210.87 L148.55,210.73 L149.75,210.47 L150.96,210.66 L152.16,210.62 L153.37,210.3 L154.57,210.64 L155.78,210.9 L156.98,210.91 L158.19,210.86 L159.39,210.44 L160.6,210.77 L161.8,210.52 L163.01,210.46 L164.22,210.55 L165.42,210.93 L166.62,210.71 L167.83,210.23 L169.03,210.24 L170.24,210.13 L171.44,210.29 L172.65,210.26 L173.85,210.07 L175.06,209.52 L176.26,209.02 L177.47,208.7 L178.67,208.48 L179.88,208.04 L181.09,207.81 L182.29,206.72 L183.5,206.39 L184.7,205.95 L185.91,206.01 L187.11,205.41 L188.31,205.13 L189.52,205.16 L190.72,205 L191.93,204.89 L193.13,205.35 L194.34,205.52 L195.54,205.91 L196.75,206.7 L197.96,207.67 L199.16,208.61 L200.37,209.65 L201.57,211.59 L202.77,214.05 L203.98,216.23 L205.19,219.24 L206.39,223.12 L207.59,227.57 L208.8,233.1 L210,240.02 L211.21,248.25 L212.41,257.41 L213.62,267.04 L214.82,281.09 L216.03,293.53 L217.24,303.13 L218.44,310.4 L219.64,315.2 L220.85,318.49 L222.06,320.29 L223.26,321.21 L224.47,321.86 L225.67,322.37 L226.88,322.46 L228.08,322.73 L229.28,322.91 L230.49,323.2 L231.69,323.04 L232.9,323.21 L234.11,323.44 L235.31,323.37 L236.51,323.12 L237.72,322.98 L238.92,322.91 L240.13,322.67 L241.34,322.58 L242.54,322.66 L243.75,322.63 L244.95,322.68 L246.16,323.1 L247.36,323.29 L248.56,323.45 L249.77,323.72 L250.97,323.68 L252.18,323.59 L253.38,323.58 L254.59,323.18 L255.8,323.59 L257,323.34 L258.21,323.59 L259.41,323.43 L260.62,322.82 L261.82,323.24 L263.02,323.31 L264.23,323.2 L265.44,323.6 L266.64,323.07 L267.85,323.42 L269.05,322.97 L270.25,323.08 L271.46,323.52 L272.67,323.2 L273.87,323.12 L275.07,323.29 L276.28,323.21 L277.49,323.39 L278.69,323.4 L279.9,323.55 L281.1,323.58 L282.31,323.46 L283.51,323.51 L284.72,323.63 L285.92,323.45 L287.12,323.46 L288.33,323.17 L289.53,322.46 L290.74,322.61 L291.95,322.97 L293.15,322.96 L294.36,322.55 L295.56,322.4 L296.76,322.37 L297.97,322.5 L299.18,322.83 L300.38,323.02 L301.59,323.03 L302.79,323.01 L304,323.33 L305.2,323.17" fill="none" stroke="#660099" stroke-width="1.05" stroke-linejoin="round" />
<path d="M64.2,210.07 L65.4,210.5 L66.61,210.35 L67.81,210.23 L69.02,210.33 L70.22,210.15 L71.43,210.49 L72.63,210.8 L73.84,210.99 L75.04,211.43 L76.25,211.46 L77.45,211.51 L78.66,211.5 L79.86,211.36 L81.07,211.39 L82.27,211.41 L83.48,211.23 L84.68,211.21 L85.89,211.03 L87.09,210.82 L88.3,210.73 L89.5,210.77 L90.71,210.9 L91.91,210.76 L93.12,210.63 L94.32,210.39 L95.53,209.93 L96.73,209.87 L97.94,209.73 L99.14,209.93 L100.35,209.97 L101.55,210.08 L102.76,210.38 L103.96,210.12 L105.17,209.95 L106.37,210.05 L107.58,209.99 L108.78,210.02 L109.99,209.79 L111.19,209.53 L112.4,209.61 L113.6,209.58 L114.81,209.77 L116.01,209.83 L117.22,209.82 L118.42,210.07 L119.63,210.33 L120.83,210.58 L122.04,210.93 L123.24,210.47 L124.45,210.47 L125.66,210.55 L126.86,210.43 L128.06,210.25 L129.27,210.06 L130.47,210.11 L131.68,209.94 L132.88,209.54 L134.09,209.72 L135.29,209.45 L136.5,209.51 L137.7,209.92 L138.91,210.35 L140.12,210.67 L141.32,210.88 L142.52,212.06 L143.73,213.74 L144.94,216.04 L146.14,219.83 L147.34,225.17 L148.55,232.72 L149.75,242.58 L150.96,255.15 L152.16,268.39 L153.37,278.08 L154.57,286.49 L155.78,294.09 L156.98,300.33 L158.19,305.65 L159.39,309.98 L160.6,313.89 L161.8,316.73 L163.01,318.96 L164.22,320.57 L165.42,322.45 L166.62,323.98 L167.83,324.93 L169.03,325.89 L170.24,327.08 L171.44,327.69 L172.65,328.45 L173.85,329.18 L175.06,329.58 L176.26,329.77 L177.47,329.88 L178.67,330.07 L179.88,329.52 L181.09,328.8 L182.29,328.41 L183.5,327.82 L184.7,327.18 L185.91,326.62 L187.11,326.04 L188.31,325.36 L189.52,325.28 L190.72,325.1 L191.93,324.99 L193.13,324.52 L194.34,324.36 L195.54,324.08 L196.75,323.52 L197.96,323.67 L199.16,323.72 L200.37,323.47 L201.57,323.8 L202.77,323.92 L203.98,323.94 L205.19,323.92 L206.39,324.25 L207.59,324.86 L208.8,324.57 L210,324.51 L211.21,324.33 L212.41,323.87 L213.62,323.33 L214.82,323.07 L216.03,322.79 L217.24,322.45 L218.44,322.17 L219.64,321.97 L220.85,321.6 L222.06,321.6 L223.26,321.58 L224.47,321.77 L225.67,322.09 L226.88,322.35 L228.08,322.61 L229.28,322.73 L230.49,323.3 L231.69,323.34 L232.9,323.2 L234.11,323.48 L235.31,323.3 L236.51,323.16 L237.72,323.4 L238.92,322.87 L240.13,322.65 L241.34,322.04 L242.54,322.46 L243.75,322.46 L244.95,322.19 L246.16,322.4 L247.36,322.52 L248.56,322.02 L249.77,322.59 L250.97,322.94 L252.18,323.53 L253.38,323.42 L254.59,323.62 L255.8,323.63 L257,323.62 L258.21,323.65 L259.41,323.95 L260.62,323.77 L261.82,323.4 L263.02,323.04 L264.23,322.93 L265.44,322.89 L266.64,322.69 L267.85,322.84 L269.05,322.74 L270.25,322.43 L271.46,322.41 L272.67,322.43 L273.87,322.75 L275.07,322.6 L276.28,322.52 L277.49,323.05 L278.69,322.84 L279.9,323.11 L281.1,323.09 L282.31,323.16 L283.51,323.33 L284.72,323.1 L285.92,323.33 L287.12,323.33 L288.33,323.15 L289.53,323.16 L290.74,323.01 L291.95,323.19 L293.15,323.55 L294.36,323.33 L295.56,323.37 L296.76,323.62 L297.97,323.65 L299.18,323.48 L300.38,323.42 L301.59,323.61 L302.79,323.38 L304,322.95 L305.2,322.74" fill="none" stroke="#660099" stroke-width="1.05" stroke-linejoin="round" />
<path d="M64.2,201.99 L65.4,202.25 L66.61,202.47 L67.81,202.53 L69.02,202.48 L70.22,202.57 L71.43,202.67 L72.63,202.98 L73.84,203.1 L75.04,203.03 L76.25,202.72 L77.45,202.49 L78.66,202.21 L79.86,202.19 L81.07,202.55 L82.27,202.37 L83.48,202.31 L84.68,202.15 L85.89,202.41 L87.09,202.51 L88.3,202.63 L89.5,203.04 L90.71,203.02 L91.91,202.64 L93.12,202.7 L94.32,202.46 L95.53,202.79 L96.73,202.76 L97.94,202.62 L99.14,202.47 L100.35,202.19 L101.55,202.33 L102.76,202.32 L103.96,202.37 L105.17,202.55 L106.37,202.49 L107.58,202.21 L108.78,202.17 L109.99,202.42 L111.19,202.77 L112.4,202.5 L113.6,202.55 L114.81,202.69 L116.01,202.64 L117.22,202.66 L118.42,202.73 L119.63,202.91 L120.83,202.73 L122.04,202.15 L123.24,202.25 L124.45,201.99 L125.66,201.73 L126.86,201.75 L128.06,201.56 L129.27,201.25 L130.47,201.23 L131.68,201.35 L132.88,201.8 L134.09,201.69 L135.29,201.81 L136.5,201.98 L137.7,202.05 L138.91,202.18 L140.12,202.46 L141.32,202.67 L142.52,202.48 L143.73,202.37 L144.94,202.64 L146.14,203 L147.34,203.24 L148.55,203.17 L149.75,202.96 L150.96,203.22 L152.16,202.83 L153.37,202.86 L154.57,202.89 L155.78,202.96 L156.98,202.96 L158.19,202.93 L159.39,203.02 L160.6,203.27 L161.8,203.38 L163.01,203.5 L164.22,203.9 L165.42,203.64 L166.62,203.58 L167.83,203.55 L169.03,203.56 L170.24,203.67 L171.44,203.34 L172.65,202.78 L173.85,202.63 L175.06,202.21 L176.26,202.5 L177.47,202.23 L178.67,202.03 L179.88,201.85 L181.09,201.46 L182.29,201.58 L183.5,201.61 L184.7,201.67 L185.91,201.86 L187.11,201.32 L188.31,200.87 L189.52,200.66 L190.72,200.65 L191.93,201.26 L193.13,201.25 L194.34,201.19 L195.54,201.33 L196.75,201.32 L197.96,201.8 L199.16,202.63 L200.37,203.72 L201.57,204.59 L202.77,205.5 L203.98,207.65 L205.19,210.25 L206.39,213.46 L207.59,217.32 L208.8,222.12 L210,228.3 L211.21,235.73 L212.41,244.27 L213.62,254.28 L214.82,264.78 L216.03,279.84 L217.24,293.78 L218.44,305.08 L219.64,313.5 L220.85,319.36 L222.06,322.93 L223.26,325.72 L224.47,327.21 L225.67,328.27 L226.88,328.64 L228.08,329.43 L229.28,329.88 L230.49,330.44 L231.69,330.39 L232.9,330.44 L234.11,330.18 L235.31,330.17 L236.51,330.44 L237.72,330.41 L238.92,329.89 L240.13,330.11 L241.34,329.96 L242.54,329.87 L243.75,329.71 L244.95,329.9 L246.16,330.32 L247.36,330.46 L248.56,330.48 L249.77,330.71 L250.97,330.19 L252.18,330.42 L253.38,330.43 L254.59,330.52 L255.8,330.89 L257,330.81 L258.21,330.57 L259.41,330.7 L260.62,330.79 L261.82,331.15 L263.02,331.14 L264.23,331.26 L265.44,331.5 L266.64,331.32 L267.85,331.09 L269.05,331.22 L270.25,331.09 L271.46,330.8 L272.67,330.87 L273.87,330.77 L275.07,330.72 L276.28,330.68 L277.49,330.41 L278.69,330.72 L279.9,330.52 L281.1,330.66 L282.31,331.07 L283.51,330.78 L284.72,330.9 L285.92,330.73 L287.12,330.56 L288.33,330.5 L289.53,330.45 L290.74,330.36 L291.95,330.03 L293.15,329.92 L294.36,330.24 L295.56,329.69 L296.76,329.96 L297.97,330.14 L299.18,330.5 L300.38,330.26 L301.59,330.41 L302.79,330.63 L304,330.33 L305.2,330.36" fill="none" stroke="#990066" stroke-width="1.05" stroke-linejoin="round" />
<path d="M64.2,202.73 L65.4,202.74 L66.61,203.3 L67.81,203.05 L69.02,202.99 L70.22,203.57 L71.43,203.4 L72.63,203.54 L73.84,203.24 L75.04,203.06 L76.25,203.18 L77.45,202.86 L78.66,202.86 L79.86,203.16 L81.07,202.89 L82.27,202.93 L83.48,202.59 L84.68,202.93 L85.89,202.79 L87.09,203.08 L88.3,203.18 L89.5,202.95 L90.71,202.88 L91.91,203.1 L93.12,202.97 L94.32,203.15 L95.53,203.24 L96.73,203.38 L97.94,202.93 L99.14,202.78 L100.35,203.13 L101.55,203.3 L102.76,203.27 L103.96,203.09 L105.17,202.89 L106.37,202.78 L107.58,203.01 L108.78,203.37 L109.99,203.02 L111.19,203.2 L112.4,203.06 L113.6,202.85 L114.81,203.11 L116.01,203.2 L117.22,203.27 L118.42,203.1 L119.63,202.58 L120.83,203.13 L122.04,202.8 L123.24,203.08 L124.45,203.16 L125.66,203.1 L126.86,202.88 L128.06,202.85 L129.27,202.58 L130.47,202.82 L131.68,202.84 L132.88,202.94 L134.09,202.86 L135.29,203.05 L136.5,203.25 L137.7,204.14 L138.91,204.38 L140.12,205.32 L141.32,206.72 L142.52,208.42 L143.73,211.16 L144.94,215.4 L146.14,221.54 L147.34,230.98 L148.55,243.01 L149.75,257.5 L150.96,271.32 L152.16,281.7 L153.37,291.41 L154.57,299.63 L155.78,306.31 L156.98,311.89 L158.19,316.03 L159.39,319.03 L160.6,322.11 L161.8,324.48 L163.01,326.61 L164.22,327.67 L165.42,329.08 L166.62,330.26 L167.83,331.34 L169.03,332.11 L170.24,333.11 L171.44,333.53 L172.65,333.87 L173.85,334.02 L175.06,334.61 L176.26,334.62 L177.47,334.58 L178.67,334.4 L179.88,334.21 L181.09,333.81 L182.29,333.96 L183.5,333.73 L184.7,333.54 L185.91,333.01 L187.11,333.04 L188.31,332.84 L189.52,332.69 L190.72,332.58 L191.93,332.29 L193.13,331.83 L194.34,331.44 L195.54,331.44 L196.75,331.79 L197.96,331.24 L199.16,330.99 L200.37,330.82 L201.57,330.71 L202.77,330.78 L203.98,330.89 L205.19,330.89 L206.39,330.73 L207.59,330.25 L208.8,330.44 L210,330.85 L211.21,331.15 L212.41,330.99 L213.62,331.1 L214.82,330.96 L216.03,331.08 L217.24,331.07 L218.44,331.33 L219.64,331.33 L220.85,330.98 L222.06,330.51 L223.26,330.7 L224.47,330.36 L225.67,329.99 L226.88,329.74 L228.08,329.5 L229.28,329.39 L230.49,329.38 L231.69,329.44 L232.9,329.82 L234.11,329.84 L235.31,330.27 L236.51,330.3 L237.72,330.51 L238.92,330.77 L240.13,331.12 L241.34,331.15 L242.54,331.2 L243.75,331.26 L244.95,331.45 L246.16,331.73 L247.36,331.91 L248.56,332.02 L249.77,331.51 L250.97,331.19 L252.18,331.21 L253.38,330.9 L254.59,330.7 L255.8,330.48 L257,330.16 L258.21,330.37 L259.41,330.11 L260.62,330.38 L261.82,330.08 L263.02,330.12 L264.23,330.36 L265.44,330.54 L266.64,330.41 L267.85,330.58 L269.05,330.39 L270.25,330.46 L271.46,330.4 L272.67,330.85 L273.87,330.61 L275.07,330.74 L276.28,330.72 L277.49,331.11 L278.69,330.68 L279.9,330.5 L281.1,330.79 L282.31,331.16 L283.51,331.07 L284.72,330.83 L285.92,330.54 L287.12,330.51 L288.33,330.59 L289.53,330.91 L290.74,330.99 L291.95,330.57 L293.15,330.49 L294.36,330.56 L295.56,331.07 L296.76,331.56 L297.97,331.32 L299.18,331.2 L300.38,330.91 L301.59,331.41 L302.79,331.94 L304,331.85 L305.2,331.87" fill="none" stroke="#990066" stroke-width="1.05" stroke-linejoin="round" />
<path d="M64.2,199.44 L65.4,199.89 L66.61,200.02 L67.81,199.88 L69.02,199.81 L70.22,200.2 L71.43,200.03 L72.63,200.69 L73.84,200.82 L75.04,200.9 L76.25,200.87 L77.45,200.85 L78.66,200.71 L79.86,200.63 L81.07,200.28 L82.27,200.18 L83.48,200.04 L84.68,200.17 L85.89,200.34 L87.09,200.04 L88.3,199.95 L89.5,199.76 L90.71,199.98 L91.91,200.28 L93.12,199.97 L94.32,199.62 L95.53,199.45 L96.73,199.46 L97.94,199.81 L99.14,199.98 L100.35,200.11 L101.55,200.3 L102.76,200.34 L103.96,200.58 L105.17,200.7 L106.37,200.62 L107.58,200.39 L108.78,199.84 L109.99,199.81 L111.19,199.81 L112.4,199.84 L113.6,199.51 L114.81,199.52 L116.01,199.52 L117.22,199.46 L118.42,199.58 L119.63,199.64 L120.83,199.35 L122.04,199.5 L123.24,199.43 L124.45,199.68 L125.66,199.81 L126.86,199.89 L128.06,200.06 L129.27,199.56 L130.47,199.64 L131.68,199.66 L132.88,199.84 L134.09,199.87 L135.29,199.8 L136.5,199.68 L137.7,199.83 L138.91,199.55 L140.12,200.16 L141.32,200.09 L142.52,200.62 L143.73,200.48 L144.94,200.32 L146.14,200.24 L147.34,200.17 L148.55,199.96 L149.75,200.21 L150.96,200.44 L152.16,200.75 L153.37,200.75 L154.57,200.65 L155.78,200.65 L156.98,200.72 L158.19,200.97 L159.39,201.12 L160.6,200.84 L161.8,200.24 L163.01,200.13 L164.22,199.53 L165.42,199.91 L166.62,200.3 L167.83,200.36 L169.03,200.37 L170.24,200.38 L171.44,200.67 L172.65,200.47 L173.85,200.58 L175.06,200.81 L176.26,200.51 L177.47,200.21 L178.67,200 L179.88,199.58 L181.09,199.72 L182.29,199.76 L183.5,200.37 L184.7,200.25 L185.91,200.58 L187.11,201 L188.31,201.48 L189.52,201.66 L190.72,202.07 L191.93,202.02 L193.13,202.66 L194.34,202.95 L195.54,203.48 L196.75,203.9 L197.96,204.31 L199.16,204.52 L200.37,205.44 L201.57,206.67 L202.77,208.14 L203.98,209.86 L205.19,212.42 L206.39,215.69 L207.59,219.75 L208.8,225.2 L210,232.32 L211.21,240.94 L212.41,251.03 L213.62,261.93 L214.82,276.35 L216.03,291.66 L217.24,304.02 L218.44,313.5 L219.64,320.5 L220.85,324.85 L222.06,327.58 L223.26,328.98 L224.47,330.27 L225.67,330.93 L226.88,331.63 L228.08,332.43 L229.28,332.78 L230.49,332.53 L231.69,332.89 L232.9,333.13 L234.11,333.54 L235.31,333.77 L236.51,333.86 L237.72,333.72 L238.92,333.79 L240.13,333.63 L241.34,333.45 L242.54,333.3 L243.75,333.07 L244.95,332.93 L246.16,332.83 L247.36,332.81 L248.56,332.9 L249.77,332.6 L250.97,332.64 L252.18,333.07 L253.38,332.72 L254.59,332.55 L255.8,332.32 L257,332.1 L258.21,332.06 L259.41,331.99 L260.62,332.19 L261.82,332.51 L263.02,332.34 L264.23,332.68 L265.44,332.93 L266.64,333.58 L267.85,333.53 L269.05,333.28 L270.25,333.23 L271.46,333.02 L272.67,332.8 L273.87,332.78 L275.07,332.82 L276.28,332.96 L277.49,332.76 L278.69,333.12 L279.9,333.52 L281.1,333.46 L282.31,333.73 L283.51,333.81 L284.72,333.85 L285.92,333.72 L287.12,333.88 L288.33,333.67 L289.53,333.54 L290.74,333.44 L291.95,333.56 L293.15,333.51 L294.36,333.56 L295.56,333.45 L296.76,333.29 L297.97,333.14 L299.18,333.33 L300.38,333.43 L301.59,333.5 L302.79,333.6 L304,333.65 L305.2,333.63" fill="none" stroke="#cc0033" stroke-width="1.05" stroke-linejoin="round" />
<path d="M64.2,200.31 L65.4,200.44 L66.61,200.3 L67.81,200.08 L69.02,200.31 L70.22,199.92 L71.43,200.23 L72.63,200.32 L73.84,200.31 L75.04,199.98 L76.25,200.07 L77.45,199.93 L78.66,200.09 L79.86,199.82 L81.07,199.72 L82.27,199.51 L83.48,199.41 L84.68,199.57 L85.89,199.57 L87.09,199.27 L88.3,199.36 L89.5,199.46 L90.71,199.52 L91.91,199.63 L93.12,199.38 L94.32,199.32 L95.53,199.48 L96.73,199.76 L97.94,199.73 L99.14,199.95 L100.35,199.57 L101.55,199.33 L102.76,199.4 L103.96,199.4 L105.17,199.59 L106.37,199.5 L107.58,199.4 L108.78,199.68 L109.99,199.49 L111.19,199.57 L112.4,199.91 L113.6,200.01 L114.81,200.14 L116.01,200.09 L117.22,199.57 L118.42,199.48 L119.63,199.44 L120.83,199.47 L122.04,199.7 L123.24,199.45 L124.45,199.47 L125.66,199.73 L126.86,199.83 L128.06,200.17 L129.27,200.33 L130.47,200.17 L131.68,200.36 L132.88,200.19 L134.09,200.44 L135.29,200.73 L136.5,200.65 L137.7,200.75 L138.91,200.94 L140.12,201.41 L141.32,202.31 L142.52,203.65 L143.73,205.92 L144.94,208.98 L146.14,213.5 L147.34,220.79 L148.55,231.11 L149.75,244.36 L150.96,260.37 L152.16,274.21 L153.37,284.8 L154.57,294.21 L155.78,302.71 L156.98,309.9 L158.19,314.99 L159.39,319.04 L160.6,322.61 L161.8,324.74 L163.01,326.37 L164.22,328.39 L165.42,329.45 L166.62,330.02 L167.83,330.73 L169.03,331.38 L170.24,332.12 L171.44,332.1 L172.65,332.31 L173.85,332.28 L175.06,332.11 L176.26,332.44 L177.47,332.49 L178.67,332.34 L179.88,332.66 L181.09,332.48 L182.29,332.74 L183.5,333.03 L184.7,333.37 L185.91,333.21 L187.11,333.22 L188.31,333.13 L189.52,333.1 L190.72,332.78 L191.93,332.82 L193.13,332.7 L194.34,332.85 L195.54,332.91 L196.75,333.05 L197.96,333.15 L199.16,333.55 L200.37,333.56 L201.57,333.91 L202.77,334.2 L203.98,334.44 L205.19,334.21 L206.39,334.34 L207.59,334.49 L208.8,334.44 L210,334.21 L211.21,334.2 L212.41,334.17 L213.62,333.57 L214.82,333.31 L216.03,333.07 L217.24,332.79 L218.44,332.67 L219.64,332.67 L220.85,332.62 L222.06,332.68 L223.26,332.62 L224.47,332.79 L225.67,332.9 L226.88,333.11 L228.08,333.14 L229.28,333.12 L230.49,332.98 L231.69,332.99 L232.9,332.79 L234.11,332.65 L235.31,332.92 L236.51,333.21 L237.72,333.27 L238.92,333.36 L240.13,333.08 L241.34,333.41 L242.54,333.55 L243.75,333.81 L244.95,334.06 L246.16,333.92 L247.36,333.58 L248.56,333.45 L249.77,333.33 L250.97,333.76 L252.18,333.41 L253.38,333.3 L254.59,333.15 L255.8,332.95 L257,333.01 L258.21,333.31 L259.41,333.42 L260.62,333.73 L261.82,333.08 L263.02,333.32 L264.23,333.2 L265.44,333.19 L266.64,333.22 L267.85,333 L269.05,332.95 L270.25,332.73 L271.46,332.57 L272.67,333.32 L273.87,333.14 L275.07,333.33 L276.28,333.29 L277.49,333.08 L278.69,333.28 L279.9,333.07 L281.1,333.1 L282.31,333.32 L283.51,332.86 L284.72,333.22 L285.92,333.53 L287.12,333.53 L288.33,333.98 L289.53,333.94 L290.74,334.31 L291.95,334.43 L293.15,334.47 L294.36,334.62 L295.56,334.64 L296.76,334.35 L297.97,334.49 L299.18,334.3 L300.38,334.29 L301.59,334 L302.79,334.24 L304,334.48 L305.2,334.54" fill="none" stroke="#cc0033" stroke-width="1.05" stroke-linejoin="round" />
<path d="M64.2,208.32 L65.4,208.31 L66.61,208.4 L67.81,208.34 L69.02,208.12 L70.22,207.9 L71.43,207.73 L72.63,207.87 L73.84,208.12 L75.04,208.1 L76.25,207.91 L77.45,207.62 L78.66,207.63 L79.86,207.34 L81.07,207.51 L82.27,207.63 L83.48,207.19 L84.68,207.08 L85.89,206.91 L87.09,207.24 L88.3,207.27 L89.5,207.45 L90.71,207.96 L91.91,207.74 L93.12,207.66 L94.32,207.79 L95.53,207.91 L96.73,208.18 L97.94,207.66 L99.14,207.92 L100.35,208.49 L101.55,208.31 L102.76,208.68 L103.96,208.77 L105.17,208.85 L106.37,208.83 L107.58,208.9 L108.78,208.99 L109.99,209.1 L111.19,208.19 L112.4,208.15 L113.6,208.14 L114.81,208 L116.01,207.85 L117.22,207.88 L118.42,207.62 L119.63,208.12 L120.83,208.05 L122.04,208.2 L123.24,208.16 L124.45,208.21 L125.66,208.27 L126.86,208.22 L128.06,208.07 L129.27,208.51 L130.47,208.27 L131.68,208.06 L132.88,208.14 L134.09,207.8 L135.29,207.64 L136.5,207.82 L137.7,208 L138.91,207.81 L140.12,207.68 L141.32,207.42 L142.52,207.98 L143.73,207.99 L144.94,208.44 L146.14,208.34 L147.34,208.17 L148.55,208.39 L149.75,208.63 L150.96,208.46 L152.16,208.6 L153.37,208.32 L154.57,208.65 L155.78,208.9 L156.98,208.57 L158.19,208.76 L159.39,208.63 L160.6,208.9 L161.8,208.82 L163.01,209.05 L164.22,208.69 L165.42,208.42 L166.62,208.14 L167.83,208.49 L169.03,208.7 L170.24,208.77 L171.44,208.67 L172.65,209.1 L173.85,209.07 L175.06,209.4 L176.26,209.37 L177.47,210.02 L178.67,210.33 L179.88,210.39 L181.09,210.5 L182.29,210.43 L183.5,210.24 L184.7,210.35 L185.91,210.53 L187.11,210.81 L188.31,210.32 L189.52,210.67 L190.72,210.72 L191.93,211.04 L193.13,211.5 L194.34,211.75 L195.54,211.97 L196.75,212.11 L197.96,212.61 L199.16,213 L200.37,213.17 L201.57,213.42 L202.77,213.47 L203.98,213.42 L205.19,213.72 L206.39,214.42 L207.59,215.14 L208.8,215.85 L210,216.55 L211.21,216.96 L212.41,217.92 L213.62,219.57 L214.82,221.41 L216.03,223.36 L217.24,224.9 L218.44,226.84 L219.64,228.98 L220.85,231.44 L222.06,235.05 L223.26,238.93 L224.47,242.4 L225.67,246.9 L226.88,252.23 L228.08,258.74 L229.28,265.7 L230.49,274.55 L231.69,282.75 L232.9,289.5 L234.11,295.09 L235.31,300.4 L236.51,304.7 L237.72,308.12 L238.92,310.29 L240.13,312.68 L241.34,314.18 L242.54,315.81 L243.75,317.07 L244.95,318.45 L246.16,319.3 L247.36,319.86 L248.56,320.45 L249.77,321.45 L250.97,321.7 L252.18,322.33 L253.38,322.76 L254.59,323.25 L255.8,323.45 L257,323.57 L258.21,323.71 L259.41,323.97 L260.62,323.97 L261.82,324.05 L263.02,323.91 L264.23,324 L265.44,324.03 L266.64,324.25 L267.85,324.71 L269.05,324.87 L270.25,324.66 L271.46,324.72 L272.67,324.77 L273.87,324.91 L275.07,325.05 L276.28,325.45 L277.49,325.31 L278.69,325.19 L279.9,325.48 L281.1,325.9 L282.31,325.83 L283.51,326.25 L284.72,326.03 L285.92,325.87 L287.12,325.2 L288.33,325.46 L289.53,325.53 L290.74,325.54 L291.95,325.38 L293.15,325.65 L294.36,325.49 L295.56,325.63 L296.76,325.89 L297.97,326.39 L299.18,326.2 L300.38,326.3 L301.59,326.3 L302.79,326.28 L304,326.32 L305.2,326.42" fill="none" stroke="#ff0000" stroke-width="1.05" stroke-linejoin="round" />
<path d="M64.2,207.41 L65.4,207.27 L66.61,206.95 L67.81,207.36 L69.02,206.97 L70.22,206.98 L71.43,206.73 L72.63,206.82 L73.84,206.63 L75.04,206.72 L76.25,206.83 L77.45,207.19 L78.66,207 L79.86,207.07 L81.07,207.07 L82.27,207.28 L83.48,207.01 L84.68,206.95 L85.89,207.13 L87.09,206.98 L88.3,207.21 L89.5,207.28 L90.71,207.42 L91.91,207.41 L93.12,207.39 L94.32,207.7 L95.53,208.15 L96.73,208.28 L97.94,208.49 L99.14,208.39 L100.35,208.71 L101.55,208.83 L102.76,209.33 L103.96,209.59 L105.17,209.73 L106.37,209.48 L107.58,209.21 L108.78,209.58 L109.99,210.04 L111.19,210.14 L112.4,210.52 L113.6,210.68 L114.81,210.91 L116.01,211.34 L117.22,211.99 L118.42,212.72 L119.63,213.37 L120.83,214.02 L122.04,215.14 L123.24,216.21 L124.45,217.86 L125.66,219.67 L126.86,221.76 L128.06,224.59 L129.27,227.57 L130.47,231.17 L131.68,235.38 L132.88,240.29 L134.09,246.75 L135.29,253.68 L136.5,261.7 L137.7,269.51 L138.91,276.04 L140.12,281.97 L141.32,287.22 L142.52,291.64 L143.73,295.66 L144.94,298.83 L146.14,301.5 L147.34,304.18 L148.55,306.67 L149.75,308.51 L150.96,310.5 L152.16,312.02 L153.37,313.86 L154.57,315.2 L155.78,316.21 L156.98,317.28 L158.19,318.11 L159.39,318.48 L160.6,319.14 L161.8,319.54 L163.01,320.34 L164.22,320.58 L165.42,321.09 L166.62,321.27 L167.83,321.67 L169.03,322.08 L170.24,322.49 L171.44,322.54 L172.65,322.78 L173.85,322.66 L175.06,322.77 L176.26,322.89 L177.47,323.59 L178.67,323.84 L179.88,323.58 L181.09,323.56 L182.29,323.8 L183.5,323.99 L184.7,324.13 L185.91,324.03 L187.11,323.97 L188.31,323.85 L189.52,323.86 L190.72,324.18 L191.93,324.4 L193.13,324.48 L194.34,324.66 L195.54,324.68 L196.75,324.76 L197.96,325.05 L199.16,325.02 L200.37,324.98 L201.57,325.05 L202.77,325.29 L203.98,324.93 L205.19,324.59 L206.39,324.46 L207.59,324.78 L208.8,324.36 L210,324.65 L211.21,324.91 L212.41,324.76 L213.62,324.46 L214.82,324.97 L216.03,325.25 L217.24,325.41 L218.44,325.59 L219.64,325.78 L220.85,325.44 L222.06,325.45 L223.26,325.5 L224.47,325.62 L225.67,325.43 L226.88,325.25 L228.08,325.06 L229.28,324.84 L230.49,324.93 L231.69,325.13 L232.9,324.9 L234.11,325.07 L235.31,325.14 L236.51,325.18 L237.72,325.27 L238.92,325.25 L240.13,325.2 L241.34,325.01 L242.54,324.8 L243.75,324.76 L244.95,324.74 L246.16,324.68 L247.36,324.59 L248.56,324.71 L249.77,324.96 L250.97,324.98 L252.18,325.22 L253.38,325.16 L254.59,325.5 L255.8,325.76 L257,326.21 L258.21,326.41 L259.41,326.43 L260.62,326.48 L261.82,326.38 L263.02,326.09 L264.23,326.26 L265.44,326.08 L266.64,325.93 L267.85,325.56 L269.05,325.27 L270.25,324.95 L271.46,325.28 L272.67,325.24 L273.87,325.28 L275.07,325.2 L276.28,325.53 L277.49,325.46 L278.69,325.47 L279.9,325.63 L281.1,325.99 L282.31,325.82 L283.51,325.82 L284.72,326.3 L285.92,326.21 L287.12,325.97 L288.33,325.87 L289.53,326.19 L290.74,326.36 L291.95,326.13 L293.15,326.23 L294.36,326.05 L295.56,326.07 L296.76,326.51 L297.97,326.51 L299.18,326.49 L300.38,326.15 L301.59,326.12 L302.79,326.28 L304,326.08 L305.2,326.52" fill="none" stroke="#ff0000" stroke-width="1.05" stroke-linejoin="round" />
</g>
<line x1="48.9" y1="220.59" x2="51.9" y2="220.59" stroke="#000" stroke-width="0.65"/>
<text x="30.2" y="224.71" font-size="10.51" letter-spacing="0.47" >0.2</text>
<line x1="48.9" y1="266.75" x2="51.9" y2="266.75" stroke="#000" stroke-width="0.65"/>
<text x="29.85" y="270.87" font-size="10.51" letter-spacing="0.58" >0.0</text>
<line x1="48.9" y1="312.91" x2="51.9" y2="312.91" stroke="#000" stroke-width="0.65"/>
<rect x="22.45" y="313.43" width="6.45" height="0.85" fill="#000"/>
<text x="30.2" y="317.03" font-size="10.51" letter-spacing="0.47" >0.2</text>
<line x1="88.3" y1="342.9" x2="88.3" y2="345.9" stroke="#000" stroke-width="0.65"/>
<rect x="81.58" y="352.7" width="6.45" height="0.85" fill="#000"/>
<text x="89.32" y="356.3" font-size="10.51" letter-spacing="0" >4</text>
<line x1="136.5" y1="342.9" x2="136.5" y2="345.9" stroke="#000" stroke-width="0.65"/>
<rect x="130" y="352.7" width="6.45" height="0.85" fill="#000"/>
<text x="137.75" y="356.3" font-size="10.51" letter-spacing="0" >2</text>
<line x1="184.7" y1="342.9" x2="184.7" y2="345.9" stroke="#000" stroke-width="0.65"/>
<text x="181.7" y="356.3" font-size="10.51" letter-spacing="0" >0</text>
<line x1="232.9" y1="342.9" x2="232.9" y2="345.9" stroke="#000" stroke-width="0.65"/>
<text x="230.02" y="356.3" font-size="10.51" letter-spacing="0" >2</text>
<line x1="281.1" y1="342.9" x2="281.1" y2="345.9" stroke="#000" stroke-width="0.65"/>
<text x="278.12" y="356.3" font-size="10.51" letter-spacing="0" >4</text>
<text x="170.22" y="370.6" font-size="10.71" letter-spacing="0" >B</text>
<text x="177.2" y="372.2" font-size="7.52" font-style="italic" letter-spacing="0" >z</text>
<text x="182.03" y="370.6" font-size="10.71" letter-spacing="0.12" > (T)</text>
<g transform="translate(10.5,268.2) rotate(-90)"><text x="-30.32" y="0" font-size="10.97" font-style="italic" letter-spacing="0" >ρ</text>
<text x="-23.81" y="-3.51" font-size="7.68" font-style="italic" letter-spacing="0" >A</text>
<text x="-23.71" y="2.66" font-size="7.68" font-style="italic" letter-spacing="0.7" >xy</text>
<text x="-14.09" y="0" font-size="10.97" letter-spacing="-0.5" > (</text>
<text x="-7.05" y="0" font-size="10.97" font-style="italic" letter-spacing="0" >μ</text>
<text x="-0.43" y="0" font-size="10.97" letter-spacing="0.56" >Ω.cm)</text></g>
<rect x="242.9" y="196.3" width="69.5" height="113.9" rx="2" fill="#fff" fill-opacity="0.8" stroke="#d6d6d6" stroke-width="0.9"/>
<line x1="246.1" y1="204.6" x2="269" y2="204.6" stroke="#0000ff" stroke-width="1.1"/>
<text x="276.9" y="208.67" font-size="10.51" letter-spacing="0.43" >10 K</text>
<line x1="246.1" y1="220.6" x2="269" y2="220.6" stroke="#3300cc" stroke-width="1.1"/>
<text x="277.3" y="224.67" font-size="10.51" letter-spacing="0.42" >50 K</text>
<line x1="246.1" y1="236.6" x2="269" y2="236.6" stroke="#660099" stroke-width="1.1"/>
<text x="277.15" y="240.67" font-size="10.51" letter-spacing="0.45" >70 K</text>
<line x1="246.1" y1="252.6" x2="269" y2="252.6" stroke="#990066" stroke-width="1.1"/>
<text x="277.2" y="256.67" font-size="10.51" letter-spacing="0.48" >90 K</text>
<line x1="246.1" y1="268.6" x2="269" y2="268.6" stroke="#cc0033" stroke-width="1.1"/>
<text x="276.9" y="272.67" font-size="10.51" letter-spacing="0.49" >130 K</text>
<line x1="246.1" y1="284.6" x2="269" y2="284.6" stroke="#ff0000" stroke-width="1.1"/>
<text x="276.9" y="288.67" font-size="10.51" letter-spacing="0.49" >190 K</text>
<circle cx="257.6" cy="300.4" r="1.35" fill="#7a7a7a"/>
<text x="277.3" y="304.47" font-size="10.51" letter-spacing="0.47" >300 K</text>
<rect x="51.9" y="190.5" width="265.6" height="152.4" fill="none" stroke="#000" stroke-width="0.65"/>
<text transform="translate(15.35,206.6) scale(1.0,1)" x="0" y="0" font-size="16" font-weight="bold">b</text>
<g clip-path="url(#cc)">
<path d="M417.45,25.75 L418.4,25.2 L419.34,25.58 L420.29,26.12 L421.23,25.84 L422.18,25.41 L423.13,25.04 L424.07,24.92 L425.02,25.21 L425.96,24.99 L426.91,24.08 L427.86,24.31 L428.8,24.61 L429.75,25.25 L430.69,25.46 L431.64,25.41 L432.59,25.42 L433.53,26.05 L434.48,25.92 L435.42,25.57 L436.37,25.05 L437.32,25.02 L438.26,25.48 L439.21,25.24 L440.15,25.56 L441.1,25.67 L442.05,26.19 L442.99,26.45 L443.94,26.68 L444.88,26.21 L445.83,25.6 L446.78,25.28 L447.72,25.04 L448.67,25.01 L449.61,25.08 L450.56,24.74 L451.51,24.82 L452.45,25.51 L453.4,25.48 L454.34,25.92 L455.29,25.48 L456.24,25.6 L457.18,25.32 L458.13,25.42 L459.07,25.35 L460.02,25.37 L460.97,24.91 L461.91,25.19 L462.86,24.77 L463.8,25.24 L464.75,24.82 L465.7,24.84 L466.64,24.81 L467.59,25.22 L468.53,24.9 L469.48,25.03 L470.43,24.62 L471.37,25.01 L472.32,25.03 L473.26,24.94 L474.21,24.69 L475.16,24.83 L476.1,24.9 L477.05,25.43 L477.99,25.58 L478.94,25.81 L479.89,25.8 L480.83,25.51 L481.78,25.33 L482.72,25.13 L483.67,24.8 L484.62,24.4 L485.56,24.27 L486.51,24.23 L487.45,24.17 L488.4,24.48 L489.35,24.89 L490.29,24.62 L491.24,24.73 L492.18,24.54 L493.13,24.52 L494.08,25.23 L495.02,24.65 L495.97,24.18 L496.91,24.61 L497.86,24.56 L498.81,24.77 L499.75,25.12 L500.7,24.99 L501.64,25.35 L502.59,25.46 L503.54,25.41 L504.48,25.52 L505.43,25.39 L506.37,25.41 L507.32,25.35 L508.27,25.32 L509.21,25.47 L510.16,25.66 L511.1,25.71 L512.05,25.76 L513,25.68 L513.94,25.64 L514.89,25.67 L515.83,25.62 L516.78,25.57 L517.73,25.53 L518.67,25.46 L519.62,25.39 L520.56,25.29 L521.51,25.17 L522.46,25.02 L523.4,24.85 L524.35,24.64 L525.29,24.4 L526.24,24.12 L527.19,23.8 L528.13,23.44 L529.08,23.04 L530.02,22.61 L530.97,22.15 L531.92,21.67 L532.86,21.16 L533.81,20.65 L534.75,20.15 L535.7,19.66 L536.65,19.2 L537.59,18.78 L538.54,18.41 L539.48,18.11 L540.43,17.89 L541.38,17.75 L542.32,17.71 L543.27,17.77 L544.21,17.93 L545.16,18.2 L546.11,18.58 L547.05,19.08 L548,19.68 L548.94,20.41 L549.89,21.27 L550.84,22.27 L551.78,23.44 L552.73,24.8 L553.67,26.41 L554.62,28.31 L555.57,30.59 L556.51,33.29 L557.46,36.53 L558.4,40.48 L559.35,45.13 L560.3,50.64 L561.24,56.63 L562.19,63.44 L563.13,70.89 L564.08,78.65 L565.03,90.35 L565.97,100.35 L566.92,108.61 L567.86,115.42 L568.81,120.37 L569.76,123.88 L570.7,126.26 L571.65,127.81 L572.59,129.34 L573.54,130.65 L574.49,131.43 L575.43,131.48 L576.38,130.89 L577.32,131.26 L578.27,131.35 L579.22,131.34 L580.16,130.66 L581.11,130.7 L582.05,131.17 L583,131.74 L583.95,131.75 L584.89,131.55 L585.84,131.47 L586.78,131.51 L587.73,130.79 L588.68,130.65 L589.62,130.52 L590.57,130.48 L591.51,130.35 L592.46,130.96 L593.41,131.54 L594.35,131.87 L595.3,131.51 L596.24,131.28 L597.19,130.74 L598.14,130.65 L599.08,130.51 L600.03,130.08 L600.97,130.33 L601.92,130.94 L602.87,131.54 L603.81,132.21 L604.76,132.27 L605.7,132.07 L606.65,132.2 L607.6,131.78 L608.54,131.48 L609.49,130.94 L610.43,130.31 L611.38,130.5 L612.33,131.01 L613.27,130.72 L614.22,131.22 L615.16,130.96 L616.11,131.02 L617.06,131.07 L618,130.7 L618.95,130.73 L619.89,130.74 L620.84,130.74 L621.79,131.23 L622.73,131.41 L623.68,131.47 L624.62,131.45 L625.57,130.72 L626.52,131.28 L627.46,131.27 L628.41,131.65 L629.35,131.58 L630.3,131.62 L631.25,132.01 L632.19,132.2 L633.14,131.75 L634.08,131.38 L635.03,131.01 L635.98,131.18 L636.92,131.51 L637.87,130.92 L638.81,130.72 L639.76,130.81 L640.71,130.99 L641.65,130.78 L642.6,130.53 L643.54,130.41 L644.49,130.9 L645.44,131.46 L646.38,131.59 L647.33,131.25 L648.27,131.15 L649.22,131.19 L650.17,131.19 L651.11,131.1 L652.06,130.72 L653,130.73 L653.95,131.07" fill="none" stroke="#000" stroke-width="1.25" stroke-linejoin="round" />
<path d="M417.45,26.58 L418.4,26.71 L419.34,26.68 L420.29,26.64 L421.23,26.38 L422.18,25.87 L423.13,26.06 L424.07,25.54 L425.02,25.62 L425.96,25.51 L426.91,25.15 L427.86,25.27 L428.8,25.81 L429.75,26.13 L430.69,26.36 L431.64,26.55 L432.59,26.26 L433.53,26.4 L434.48,26.36 L435.42,25.75 L436.37,25.61 L437.32,25.17 L438.26,24.66 L439.21,25.28 L440.15,25.74 L441.1,25.91 L442.05,26.04 L442.99,25.58 L443.94,26.05 L444.88,25.99 L445.83,25.72 L446.78,25.45 L447.72,25.36 L448.67,25.66 L449.61,26.4 L450.56,26.35 L451.51,26.89 L452.45,26.68 L453.4,26.1 L454.34,25.33 L455.29,25.33 L456.24,25.31 L457.18,25.17 L458.13,25.11 L459.07,24.76 L460.02,25.12 L460.97,25.94 L461.91,25.64 L462.86,25.11 L463.8,25.4 L464.75,25.31 L465.7,25.83 L466.64,25.97 L467.59,25.77 L468.53,26.07 L469.48,26.16 L470.43,25.91 L471.37,26 L472.32,25.59 L473.26,25.51 L474.21,25.44 L475.16,25.74 L476.1,25.83 L477.05,25.5 L477.99,25.59 L478.94,25.7 L479.89,25.88 L480.83,25.89 L481.78,25.54 L482.72,25.46 L483.67,25.37 L484.62,25.16 L485.56,25.06 L486.51,25.15 L487.45,25.48 L488.4,25.28 L489.35,25.6 L490.29,25.99 L491.24,25.7 L492.18,25.82 L493.13,26.1 L494.08,25.84 L495.02,25.7 L495.97,25.43 L496.91,25.72 L497.86,26.48 L498.81,27.44 L499.75,28.37 L500.7,30.07 L501.64,32.74 L502.59,36.36 L503.54,41.07 L504.48,47.74 L505.43,56.55 L506.37,66.74 L507.32,78.3 L508.27,85.9 L509.21,93.24 L510.16,100.2 L511.1,106.43 L512.05,111.81 L513,116.45 L513.94,120.41 L514.89,123.74 L515.83,126.51 L516.78,128.84 L517.73,130.78 L518.67,132.4 L519.62,133.77 L520.56,134.93 L521.51,135.9 L522.46,136.71 L523.4,137.38 L524.35,137.91 L525.29,138.31 L526.24,138.6 L527.19,138.76 L528.13,138.82 L529.08,138.77 L530.02,138.62 L530.97,138.39 L531.92,138.08 L532.86,137.7 L533.81,137.28 L534.75,136.81 L535.7,136.32 L536.65,135.81 L537.59,135.3 L538.54,134.81 L539.48,134.33 L540.43,133.87 L541.38,133.45 L542.32,133.07 L543.27,132.72 L544.21,132.41 L545.16,132.14 L546.11,131.9 L547.05,131.7 L548,131.53 L548.94,131.39 L549.89,131.28 L550.84,131.19 L551.78,131.12 L552.73,131.06 L553.67,131.01 L554.62,130.98 L555.57,130.98 L556.51,130.99 L557.46,130.96 L558.4,130.91 L559.35,130.73 L560.3,130.56 L561.24,130.58 L562.19,130.48 L563.13,130.22 L564.08,130.34 L565.03,130.31 L565.97,130.6 L566.92,130.74 L567.86,130.67 L568.81,130.74 L569.76,131.16 L570.7,131.03 L571.65,131.01 L572.59,131.09 L573.54,131.1 L574.49,131.54 L575.43,131.36 L576.38,131.14 L577.32,131.73 L578.27,131.94 L579.22,132.32 L580.16,132.11 L581.11,131.6 L582.05,131.64 L583,131.57 L583.95,131.13 L584.89,131.39 L585.84,131.12 L586.78,131.24 L587.73,131.33 L588.68,131.35 L589.62,131.26 L590.57,130.92 L591.51,131.26 L592.46,131.08 L593.41,131 L594.35,130.41 L595.3,130.26 L596.24,130.8 L597.19,131.09 L598.14,130.61 L599.08,130.47 L600.03,130.68 L600.97,131.24 L601.92,131.5 L602.87,131.13 L603.81,131.37 L604.76,131.68 L605.7,131.81 L606.65,131.33 L607.6,131.32 L608.54,131.54 L609.49,131.47 L610.43,131.2 L611.38,130.81 L612.33,130.92 L613.27,130.83 L614.22,131.08 L615.16,130.97 L616.11,131.48 L617.06,131.78 L618,131.91 L618.95,132.14 L619.89,132.64 L620.84,131.95 L621.79,131.87 L622.73,131.45 L623.68,130.77 L624.62,130.61 L625.57,130.79 L626.52,130.54 L627.46,131.19 L628.41,130.76 L629.35,131.03 L630.3,131.69 L631.25,132.05 L632.19,131.62 L633.14,131.96 L634.08,131.76 L635.03,132.24 L635.98,132.09 L636.92,131.73 L637.87,131.13 L638.81,131.15 L639.76,131.12 L640.71,131.36 L641.65,131.21 L642.6,130.5 L643.54,130.84 L644.49,131.25 L645.44,131.43 L646.38,131.48 L647.33,131.46 L648.27,131.57 L649.22,131.8 L650.17,131.7 L651.11,131.63 L652.06,131.85 L653,131.55 L653.95,131.33" fill="none" stroke="#000" stroke-width="1.25" stroke-linejoin="round" />
<path d="M417.45,21.72 L418.4,21.8 L419.34,21.88 L420.29,21.95 L421.23,22.03 L422.18,22.11 L423.13,22.18 L424.07,22.26 L425.02,22.34 L425.96,22.42 L426.91,22.49 L427.86,22.57 L428.8,22.65 L429.75,22.72 L430.69,22.8 L431.64,22.88 L432.59,22.95 L433.53,23.03 L434.48,23.11 L435.42,23.18 L436.37,23.26 L437.32,23.34 L438.26,23.41 L439.21,23.49 L440.15,23.57 L441.1,23.65 L442.05,23.72 L442.99,23.8 L443.94,23.88 L444.88,23.95 L445.83,24.03 L446.78,24.11 L447.72,24.18 L448.67,24.26 L449.61,24.34 L450.56,24.41 L451.51,24.49 L452.45,24.57 L453.4,24.64 L454.34,24.72 L455.29,24.8 L456.24,24.88 L457.18,24.95 L458.13,25.03 L459.07,25.11 L460.02,25.18 L460.97,25.26 L461.91,25.34 L462.86,25.41 L463.8,25.49 L464.75,25.57 L465.7,25.64 L466.64,25.72 L467.59,25.8 L468.53,25.87 L469.48,25.95 L470.43,26.03 L471.37,26.11 L472.32,26.18 L473.26,26.26 L474.21,26.34 L475.16,26.41 L476.1,26.49 L477.05,26.57 L477.99,26.64 L478.94,26.72 L479.89,26.8 L480.83,26.87 L481.78,26.95 L482.72,27.03 L483.67,27.11 L484.62,27.18 L485.56,27.26 L486.51,27.34 L487.45,27.41 L488.4,27.49 L489.35,27.57 L490.29,27.64 L491.24,27.72 L492.18,27.8 L493.13,27.87 L494.08,27.88 L495.02,27.89 L495.97,27.9 L496.91,27.91 L497.86,27.91 L498.81,27.92 L499.75,27.93 L500.7,27.94 L501.64,27.95 L502.59,27.95 L503.54,27.96 L504.48,27.97 L505.43,27.98 L506.37,27.99 L507.32,27.99 L508.27,28 L509.21,28.01 L510.16,28.02 L511.1,28.03 L512.05,28.03 L513,28.04 L513.94,28.05 L514.89,28.06 L515.83,28.07 L516.78,28.08 L517.73,28.08 L518.67,28.09 L519.62,28.1 L520.56,28.11 L521.51,28.12 L522.46,28.12 L523.4,28.13 L524.35,28.14 L525.29,28.15 L526.24,28.16 L527.19,28.17 L528.13,28.17 L529.08,28.18 L530.02,28.19 L530.97,28.2 L531.92,28.21 L532.86,28.22 L533.81,28.23 L534.75,28.24 L535.7,28.26 L536.65,28.27 L537.59,28.29 L538.54,28.31 L539.48,28.33 L540.43,28.36 L541.38,28.39 L542.32,28.44 L543.27,28.49 L544.21,28.56 L545.16,28.65 L546.11,28.77 L547.05,28.93 L548,29.13 L548.94,29.4 L549.89,29.75 L550.84,30.21 L551.78,30.81 L552.73,31.6 L553.67,32.62 L554.62,33.96 L555.57,35.67 L556.51,37.86 L557.46,40.62 L558.4,44.05 L559.35,48.23 L560.3,53.2 L561.24,58.95 L562.19,65.4 L563.13,72.39 L564.08,79.66 L565.03,90.86 L565.97,101.03 L566.92,109.51 L567.86,116.07 L568.81,120.87 L569.76,124.24 L570.7,126.53 L571.65,128.06 L572.59,129.07 L573.54,129.73 L574.49,130.16 L575.43,130.45 L576.38,130.63 L577.32,130.75 L578.27,130.83 L579.22,130.82 L580.16,130.79 L581.11,130.74 L582.05,130.7 L583,130.64 L583.95,130.59 L584.89,130.53 L585.84,130.47 L586.78,130.41 L587.73,130.35 L588.68,130.29 L589.62,130.23 L590.57,130.17 L591.51,130.11 L592.46,130.05 L593.41,129.99 L594.35,129.93 L595.3,129.87 L596.24,129.81 L597.19,129.75 L598.14,129.68 L599.08,129.62 L600.03,129.56 L600.97,129.5 L601.92,129.44 L602.87,129.38 L603.81,129.32 L604.76,129.26 L605.7,129.2 L606.65,129.14 L607.6,129.08 L608.54,129.02 L609.49,128.95 L610.43,128.89 L611.38,128.83 L612.33,128.77 L613.27,128.71 L614.22,128.65 L615.16,128.59 L616.11,128.53 L617.06,128.47 L618,128.41 L618.95,128.35 L619.89,128.29 L620.84,128.23 L621.79,128.16 L622.73,128.1 L623.68,128.04 L624.62,127.98 L625.57,127.92 L626.52,127.86 L627.46,127.8 L628.41,127.74 L629.35,127.68 L630.3,127.62 L631.25,127.56 L632.19,127.5 L633.14,127.44 L634.08,127.37 L635.03,127.31 L635.98,127.25 L636.92,127.19 L637.87,127.13 L638.81,127.07 L639.76,127.01 L640.71,126.95 L641.65,126.89 L642.6,126.83 L643.54,126.77 L644.49,126.71 L645.44,126.64 L646.38,126.58 L647.33,126.52 L648.27,126.46 L649.22,126.4 L650.17,126.34 L651.11,126.28 L652.06,126.22 L653,126.16 L653.95,126.1" fill="none" stroke="#00bfbf" stroke-width="1.25" stroke-linejoin="round" />
<path d="M417.45,21.72 L418.4,21.8 L419.34,21.88 L420.29,21.95 L421.23,22.03 L422.18,22.11 L423.13,22.18 L424.07,22.26 L425.02,22.34 L425.96,22.42 L426.91,22.49 L427.86,22.57 L428.8,22.65 L429.75,22.72 L430.69,22.8 L431.64,22.88 L432.59,22.95 L433.53,23.03 L434.48,23.11 L435.42,23.18 L436.37,23.26 L437.32,23.34 L438.26,23.41 L439.21,23.49 L440.15,23.57 L441.1,23.65 L442.05,23.72 L442.99,23.8 L443.94,23.88 L444.88,23.95 L445.83,24.03 L446.78,24.11 L447.72,24.18 L448.67,24.26 L449.61,24.34 L450.56,24.41 L451.51,24.49 L452.45,24.57 L453.4,24.64 L454.34,24.72 L455.29,24.8 L456.24,24.88 L457.18,24.95 L458.13,25.03 L459.07,25.11 L460.02,25.18 L460.97,25.26 L461.91,25.34 L462.86,25.41 L463.8,25.49 L464.75,25.57 L465.7,25.64 L466.64,25.72 L467.59,25.8 L468.53,25.87 L469.48,25.95 L470.43,26.03 L471.37,26.11 L472.32,26.18 L473.26,26.26 L474.21,26.34 L475.16,26.41 L476.1,26.49 L477.05,26.57 L477.99,26.64 L478.94,26.72 L479.89,26.8 L480.83,26.87 L481.78,26.95 L482.72,27.03 L483.67,27.11 L484.62,27.18 L485.56,27.26 L486.51,27.34 L487.45,27.42 L488.4,27.5 L489.35,27.59 L490.29,27.68 L491.24,27.77 L492.18,27.88 L493.13,28 L494.08,28.08 L495.02,28.21 L495.97,28.39 L496.91,28.67 L497.86,29.1 L498.81,29.76 L499.75,30.77 L500.7,32.3 L501.64,34.6 L502.59,37.96 L503.54,42.76 L504.48,49.32 L505.43,57.8 L506.37,67.98 L507.32,79.18 L508.27,86.45 L509.21,93.43 L510.16,99.88 L511.1,105.64 L512.05,110.61 L513,114.78 L513.94,118.21 L514.89,120.97 L515.83,123.16 L516.78,124.88 L517.73,126.21 L518.67,127.24 L519.62,128.03 L520.56,128.63 L521.51,129.09 L522.46,129.44 L523.4,129.7 L524.35,129.91 L525.29,130.06 L526.24,130.18 L527.19,130.27 L528.13,130.34 L529.08,130.4 L530.02,130.44 L530.97,130.48 L531.92,130.51 L532.86,130.53 L533.81,130.55 L534.75,130.57 L535.7,130.58 L536.65,130.59 L537.59,130.6 L538.54,130.61 L539.48,130.63 L540.43,130.63 L541.38,130.64 L542.32,130.65 L543.27,130.66 L544.21,130.67 L545.16,130.68 L546.11,130.69 L547.05,130.69 L548,130.7 L548.94,130.71 L549.89,130.72 L550.84,130.73 L551.78,130.74 L552.73,130.74 L553.67,130.75 L554.62,130.76 L555.57,130.77 L556.51,130.78 L557.46,130.78 L558.4,130.79 L559.35,130.8 L560.3,130.81 L561.24,130.82 L562.19,130.82 L563.13,130.83 L564.08,130.84 L565.03,130.85 L565.97,130.86 L566.92,130.86 L567.86,130.87 L568.81,130.88 L569.76,130.89 L570.7,130.9 L571.65,130.9 L572.59,130.91 L573.54,130.92 L574.49,130.93 L575.43,130.94 L576.38,130.94 L577.32,130.95 L578.27,130.96 L579.22,130.9 L580.16,130.84 L581.11,130.78 L582.05,130.72 L583,130.66 L583.95,130.6 L584.89,130.54 L585.84,130.47 L586.78,130.41 L587.73,130.35 L588.68,130.29 L589.62,130.23 L590.57,130.17 L591.51,130.11 L592.46,130.05 L593.41,129.99 L594.35,129.93 L595.3,129.87 L596.24,129.81 L597.19,129.75 L598.14,129.68 L599.08,129.62 L600.03,129.56 L600.97,129.5 L601.92,129.44 L602.87,129.38 L603.81,129.32 L604.76,129.26 L605.7,129.2 L606.65,129.14 L607.6,129.08 L608.54,129.02 L609.49,128.95 L610.43,128.89 L611.38,128.83 L612.33,128.77 L613.27,128.71 L614.22,128.65 L615.16,128.59 L616.11,128.53 L617.06,128.47 L618,128.41 L618.95,128.35 L619.89,128.29 L620.84,128.23 L621.79,128.16 L622.73,128.1 L623.68,128.04 L624.62,127.98 L625.57,127.92 L626.52,127.86 L627.46,127.8 L628.41,127.74 L629.35,127.68 L630.3,127.62 L631.25,127.56 L632.19,127.5 L633.14,127.44 L634.08,127.37 L635.03,127.31 L635.98,127.25 L636.92,127.19 L637.87,127.13 L638.81,127.07 L639.76,127.01 L640.71,126.95 L641.65,126.89 L642.6,126.83 L643.54,126.77 L644.49,126.71 L645.44,126.64 L646.38,126.58 L647.33,126.52 L648.27,126.46 L649.22,126.4 L650.17,126.34 L651.11,126.28 L652.06,126.22 L653,126.16 L653.95,126.1" fill="none" stroke="#00bfbf" stroke-width="1.25" stroke-linejoin="round" />
<path d="M417.45,80.86 L418.4,80.43 L419.34,80.2 L420.29,80.09 L421.23,80.4 L422.18,79.94 L423.13,80.34 L424.07,80.35 L425.02,80.07 L425.96,80.14 L426.91,80.37 L427.86,80.04 L428.8,79.89 L429.75,80.38 L430.69,80.71 L431.64,81.43 L432.59,80.76 L433.53,80.61 L434.48,80.31 L435.42,79.61 L436.37,79.15 L437.32,79.51 L438.26,79.78 L439.21,80.03 L440.15,80.02 L441.1,80.3 L442.05,81 L442.99,80.99 L443.94,81.09 L444.88,81.2 L445.83,81.31 L446.78,81.23 L447.72,81.26 L448.67,80.63 L449.61,80.83 L450.56,80.56 L451.51,80.24 L452.45,80.06 L453.4,80.24 L454.34,79.81 L455.29,80.35 L456.24,79.95 L457.18,80.04 L458.13,80.41 L459.07,80.11 L460.02,79.67 L460.97,79.49 L461.91,79.2 L462.86,79.41 L463.8,79.99 L464.75,79.71 L465.7,80.34 L466.64,81.32 L467.59,81.12 L468.53,81.32 L469.48,81.88 L470.43,81.29 L471.37,80.67 L472.32,80.68 L473.26,80.71 L474.21,80.62 L475.16,81.4 L476.1,81.29 L477.05,81.08 L477.99,81.14 L478.94,80.94 L479.89,81.12 L480.83,80.99 L481.78,81.31 L482.72,81.09 L483.67,81.34 L484.62,81.08 L485.56,81.17 L486.51,81.31 L487.45,80.63 L488.4,80.37 L489.35,80.24 L490.29,80.52 L491.24,79.68 L492.18,80.01 L493.13,79.91 L494.08,80.29 L495.02,80.22 L495.97,80.52 L496.91,81.09 L497.86,81.53 L498.81,81.48 L499.75,81.56 L500.7,81.73 L501.64,81.77 L502.59,81.41 L503.54,80.21 L504.48,79.45 L505.43,79.76 L506.37,79.45 L507.32,79.42 L508.27,80.29 L509.21,80.49 L510.16,80.25 L511.1,80.42 L512.05,80.53 L513,80.47 L513.94,80.34 L514.89,79.94 L515.83,80.16 L516.78,80.08 L517.73,80.18 L518.67,80.18 L519.62,80.19 L520.56,79.33 L521.51,79.01 L522.46,79.12 L523.4,78.97 L524.35,78.69 L525.29,78.5 L526.24,78.55 L527.19,77.62 L528.13,77.61 L529.08,77.53 L530.02,77.22 L530.97,76.37 L531.92,76.32 L532.86,76.31 L533.81,76.56 L534.75,76.58 L535.7,76.13 L536.65,75.7 L537.59,75.74 L538.54,75.19 L539.48,74.88 L540.43,74.75 L541.38,74.48 L542.32,73.85 L543.27,73.72 L544.21,74.41 L545.16,75.32 L546.11,76.08 L547.05,76.75 L548,77.13 L548.94,77.29 L549.89,77.41 L550.84,77.23 L551.78,77.12 L552.73,77.35 L553.67,77.61 L554.62,78.46 L555.57,79.19 L556.51,79.5 L557.46,80.14 L558.4,79.89 L559.35,79.7 L560.3,79.71 L561.24,80.09 L562.19,80.28 L563.13,80.12 L564.08,80.45 L565.03,80.34 L565.97,80.46 L566.92,80.04 L567.86,80.94 L568.81,80.74 L569.76,80.76 L570.7,80.02 L571.65,80.37 L572.59,80.14 L573.54,79.74 L574.49,80.21 L575.43,80.58 L576.38,80.56 L577.32,80.39 L578.27,80.54 L579.22,79.99 L580.16,80.1 L581.11,80.22 L582.05,80.2 L583,80.66 L583.95,80.8 L584.89,80.46 L585.84,79.92 L586.78,80.29 L587.73,79.6 L588.68,79.77 L589.62,80.6 L590.57,80.88 L591.51,80.29 L592.46,80.74 L593.41,80.76 L594.35,80.48 L595.3,80.88 L596.24,81.46 L597.19,81.26 L598.14,81.24 L599.08,81.19 L600.03,81.32 L600.97,80.8 L601.92,80.69 L602.87,80.45 L603.81,80.01 L604.76,79.5 L605.7,80.05 L606.65,80.17 L607.6,79.98 L608.54,80.87 L609.49,80.81 L610.43,80.84 L611.38,80.77 L612.33,80.83 L613.27,80.41 L614.22,80.72 L615.16,80.49 L616.11,80.74 L617.06,81.64 L618,81.29 L618.95,81.07 L619.89,80.88 L620.84,81.19 L621.79,80.4 L622.73,81.1 L623.68,80.62 L624.62,81.37 L625.57,80.56 L626.52,81 L627.46,81.04 L628.41,81.43 L629.35,80.78 L630.3,81.49 L631.25,81.53 L632.19,80.98 L633.14,80.96 L634.08,81.98 L635.03,81.81 L635.98,81.54 L636.92,81.53 L637.87,81.17 L638.81,80.46 L639.76,79.57 L640.71,79.46 L641.65,79.45 L642.6,79.43 L643.54,78.94 L644.49,79.67 L645.44,80.1 L646.38,79.88 L647.33,80.08 L648.27,80.94 L649.22,81.3 L650.17,80.97 L651.11,81.25 L652.06,81.29 L653,80.53 L653.95,80.15" fill="none" stroke="#ff0000" stroke-width="1.2" stroke-linejoin="round" />
<path d="M417.45,80.15 L418.4,80.39 L419.34,79.76 L420.29,79.79 L421.23,79.53 L422.18,79.62 L423.13,80.17 L424.07,80.65 L425.02,79.88 L425.96,80 L426.91,80.28 L427.86,80.69 L428.8,80.87 L429.75,81.7 L430.69,81.91 L431.64,81.08 L432.59,80.14 L433.53,79.82 L434.48,79.89 L435.42,80.27 L436.37,81.03 L437.32,81.39 L438.26,80.58 L439.21,80.42 L440.15,80.25 L441.1,79.85 L442.05,79.69 L442.99,80.96 L443.94,80.45 L444.88,80.36 L445.83,81.1 L446.78,81.03 L447.72,80.51 L448.67,81 L449.61,80.69 L450.56,80.05 L451.51,80.41 L452.45,81.17 L453.4,81.79 L454.34,82.04 L455.29,81.92 L456.24,81.35 L457.18,80.32 L458.13,79.04 L459.07,79 L460.02,79.05 L460.97,79.81 L461.91,80.02 L462.86,80.46 L463.8,80.49 L464.75,80.94 L465.7,80.82 L466.64,80.98 L467.59,80.72 L468.53,80.8 L469.48,80.51 L470.43,80.37 L471.37,80.34 L472.32,81.02 L473.26,80.8 L474.21,81.02 L475.16,80.73 L476.1,80.99 L477.05,81.04 L477.99,81.25 L478.94,80.87 L479.89,80.5 L480.83,80.41 L481.78,79.82 L482.72,79.49 L483.67,79.69 L484.62,80.63 L485.56,80.43 L486.51,80.96 L487.45,80.84 L488.4,80.72 L489.35,80.07 L490.29,80.93 L491.24,80.46 L492.18,80.61 L493.13,81.24 L494.08,81.14 L495.02,80.37 L495.97,80.63 L496.91,81.08 L497.86,81.04 L498.81,81.5 L499.75,80.65 L500.7,80.59 L501.64,80.4 L502.59,80.38 L503.54,80.56 L504.48,81.79 L505.43,82.29 L506.37,82.28 L507.32,82.4 L508.27,82.23 L509.21,82.71 L510.16,82.51 L511.1,83.16 L512.05,83.3 L513,84.05 L513.94,84.46 L514.89,84.9 L515.83,85.56 L516.78,86.36 L517.73,87.16 L518.67,87.39 L519.62,88.41 L520.56,88.71 L521.51,89.05 L522.46,89.42 L523.4,90.28 L524.35,90.34 L525.29,90.38 L526.24,90.43 L527.19,90.63 L528.13,90 L529.08,89.91 L530.02,89.91 L530.97,89.72 L531.92,89.13 L532.86,88.84 L533.81,88.22 L534.75,87.95 L535.7,87.98 L536.65,87.36 L537.59,86.81 L538.54,87.08 L539.48,86.58 L540.43,85.44 L541.38,84.95 L542.32,84.51 L543.27,83.89 L544.21,83.02 L545.16,82.31 L546.11,82 L547.05,81.96 L548,81.68 L548.94,81.47 L549.89,81.78 L550.84,81.8 L551.78,81.09 L552.73,80.4 L553.67,80.4 L554.62,80.89 L555.57,80.62 L556.51,80.75 L557.46,81.32 L558.4,81.19 L559.35,80.21 L560.3,79.85 L561.24,80.25 L562.19,80.08 L563.13,80.07 L564.08,80.2 L565.03,80.13 L565.97,79.56 L566.92,79.37 L567.86,79.78 L568.81,80.63 L569.76,80.76 L570.7,80.44 L571.65,80.55 L572.59,80.57 L573.54,79.82 L574.49,79.94 L575.43,81.03 L576.38,81.11 L577.32,81.29 L578.27,80.88 L579.22,81.21 L580.16,80.54 L581.11,79.75 L582.05,78.86 L583,79.04 L583.95,78.33 L584.89,78.96 L585.84,79.64 L586.78,80.42 L587.73,80.94 L588.68,80.64 L589.62,80.77 L590.57,80.5 L591.51,80.65 L592.46,80.17 L593.41,80.56 L594.35,80.21 L595.3,79.76 L596.24,79.37 L597.19,79.38 L598.14,79.67 L599.08,79.69 L600.03,80.42 L600.97,80.48 L601.92,80.69 L602.87,80.74 L603.81,79.87 L604.76,79.81 L605.7,79.91 L606.65,80.31 L607.6,80.59 L608.54,81.73 L609.49,81.96 L610.43,81.55 L611.38,81.32 L612.33,81.14 L613.27,80.6 L614.22,79.98 L615.16,80.07 L616.11,79.86 L617.06,79.97 L618,80.16 L618.95,80.71 L619.89,80.92 L620.84,81.4 L621.79,81.34 L622.73,81.32 L623.68,81.15 L624.62,81.2 L625.57,81.1 L626.52,80.6 L627.46,80.65 L628.41,80.89 L629.35,80.75 L630.3,80.93 L631.25,81.64 L632.19,81.52 L633.14,81.71 L634.08,82.74 L635.03,82.32 L635.98,81.69 L636.92,82.22 L637.87,81.99 L638.81,80.85 L639.76,81.53 L640.71,82.1 L641.65,81.96 L642.6,81.75 L643.54,82.52 L644.49,81.65 L645.44,81.43 L646.38,80.98 L647.33,81.02 L648.27,81.07 L649.22,81.38 L650.17,81.74 L651.11,81.83 L652.06,81.98 L653,81.44 L653.95,81.46" fill="none" stroke="#ff0000" stroke-width="1.2" stroke-linejoin="round" />
</g>
<line x1="401.9" y1="33.6" x2="404.9" y2="33.6" stroke="#000" stroke-width="0.65"/>
<text x="382.9" y="37.72" font-size="10.51" letter-spacing="0.47" >0.2</text>
<line x1="401.9" y1="78.3" x2="404.9" y2="78.3" stroke="#000" stroke-width="0.65"/>
<text x="382.55" y="82.42" font-size="10.51" letter-spacing="0.58" >0.0</text>
<line x1="401.9" y1="123" x2="404.9" y2="123" stroke="#000" stroke-width="0.65"/>
<rect x="375.15" y="123.52" width="6.45" height="0.85" fill="#000"/>
<text x="382.9" y="127.12" font-size="10.51" letter-spacing="0.47" >0.2</text>
<line x1="441.1" y1="152.8" x2="441.1" y2="155.8" stroke="#000" stroke-width="0.65"/>
<rect x="434.38" y="162.7" width="6.45" height="0.85" fill="#000"/>
<text x="442.12" y="166.3" font-size="10.51" letter-spacing="0" >4</text>
<line x1="535.7" y1="152.8" x2="535.7" y2="155.8" stroke="#000" stroke-width="0.65"/>
<text x="532.7" y="166.3" font-size="10.51" letter-spacing="0" >0</text>
<line x1="630.3" y1="152.8" x2="630.3" y2="155.8" stroke="#000" stroke-width="0.65"/>
<text x="627.33" y="166.3" font-size="10.51" letter-spacing="0" >4</text>
<text x="521.22" y="180.5" font-size="10.71" letter-spacing="0" >B</text>
<text x="528.2" y="182.1" font-size="7.52" font-style="italic" letter-spacing="0" >z</text>
<text x="533.03" y="180.5" font-size="10.71" letter-spacing="0.12" > (T)</text>
<g transform="translate(363.8,78.4) rotate(-90)"><text x="-28.13" y="0" font-size="10.3" font-style="italic" letter-spacing="0" >ρ</text>
<text x="-22.28" y="2.5" font-size="7.42" font-style="italic" letter-spacing="0.75" >xy</text>
<text x="-13.61" y="0" font-size="10.3" letter-spacing="-0.45" > (</text>
<text x="-7.03" y="0" font-size="10.3" font-style="italic" letter-spacing="0" >μ</text>
<text x="-0.77" y="0" font-size="10.3" letter-spacing="0.51" >Ω.cm)</text></g>
<rect x="608.4" y="9.5" width="53.2" height="69.5" rx="2" fill="#fff" fill-opacity="0.8" stroke="#d6d6d6" stroke-width="0.9"/>
<line x1="611.6" y1="20.7" x2="633.3" y2="20.7" stroke="#000" stroke-width="1.2"/>
<text x="641.85" y="22.6" font-size="10.3" font-style="italic" letter-spacing="0" >ρ</text>
<text x="648" y="19.3" font-size="7.21" font-style="italic" letter-spacing="0" >A</text>
<text x="648.15" y="25.1" font-size="7.21" font-style="italic" letter-spacing="0.65" >xy</text>
<line x1="611.6" y1="43.05" x2="633.3" y2="43.05" stroke="#00bfbf" stroke-width="1.2"/>
<text x="641.85" y="44.95" font-size="10.3" font-style="italic" letter-spacing="0" >ρ</text>
<text x="647.85" y="41.65" font-size="7.21" font-style="italic" letter-spacing="0" >S</text>
<text x="648.15" y="47.45" font-size="7.21" font-style="italic" letter-spacing="0.65" >xy</text>
<line x1="611.6" y1="65.4" x2="633.3" y2="65.4" stroke="#ff0000" stroke-width="1.2"/>
<text x="641.85" y="67.3" font-size="10.3" font-style="italic" letter-spacing="0" >ρ</text>
<text x="647.65" y="64" font-size="7.21" font-style="italic" letter-spacing="0" >T</text>
<text x="648.15" y="69.8" font-size="7.21" font-style="italic" letter-spacing="0.65" >xy</text>
<rect x="404.9" y="4.2" width="261.3" height="148.6" fill="none" stroke="#000" stroke-width="0.65"/>
<text transform="translate(375.67,9.5) scale(0.88,1)" x="0" y="0" font-size="16" font-weight="bold">c</text>
<g clip-path="url(#cd)">
<path d="M400.79,343.7 L408.37,299.96 L415.95,331.55 L423.53,333.98 L431.11,341.27 L438.69,343.7 L446.27,343.7 L453.85,343.7 L461.43,343.7 L469.01,343.7 L476.59,343.7 L484.17,343.7 L487.96,343.7" fill="none" stroke="#ff0000" stroke-width="1.3" stroke-linejoin="round" />
<circle cx="400.79" cy="343.7" r="2.95" fill="#ff0000"/>
<circle cx="408.37" cy="299.96" r="2.95" fill="#ff0000"/>
<circle cx="415.95" cy="331.55" r="2.95" fill="#ff0000"/>
<circle cx="423.53" cy="333.98" r="2.95" fill="#ff0000"/>
<circle cx="431.11" cy="341.27" r="2.95" fill="#ff0000"/>
<circle cx="438.69" cy="343.7" r="2.95" fill="#ff0000"/>
<circle cx="446.27" cy="343.7" r="2.95" fill="#ff0000"/>
<circle cx="453.85" cy="343.7" r="2.95" fill="#ff0000"/>
<circle cx="461.43" cy="343.7" r="2.95" fill="#ff0000"/>
<circle cx="469.01" cy="343.7" r="2.95" fill="#ff0000"/>
<circle cx="476.59" cy="343.7" r="2.95" fill="#ff0000"/>
<circle cx="484.17" cy="343.7" r="2.95" fill="#ff0000"/>
<circle cx="487.96" cy="343.7" r="2.95" fill="#ff0000"/>
<path d="M400.79,265.94 L408.37,239.21 L415.95,220.26 L423.53,213.94 L431.11,209.56 L438.69,211.99 L446.27,214.91 L453.85,218.31 L461.43,219.77 L469.01,223.17 L476.59,227.06 L484.17,239.7 L487.96,262.54 L491.75,343.7 L510.7,343.7" fill="none" stroke="#00bfbf" stroke-width="1.3" stroke-linejoin="round" />
<circle cx="400.79" cy="265.94" r="2.95" fill="#00bfbf"/>
<circle cx="408.37" cy="239.21" r="2.95" fill="#00bfbf"/>
<circle cx="415.95" cy="220.26" r="2.95" fill="#00bfbf"/>
<circle cx="423.53" cy="213.94" r="2.95" fill="#00bfbf"/>
<circle cx="431.11" cy="209.56" r="2.95" fill="#00bfbf"/>
<circle cx="438.69" cy="211.99" r="2.95" fill="#00bfbf"/>
<circle cx="446.27" cy="214.91" r="2.95" fill="#00bfbf"/>
<circle cx="453.85" cy="218.31" r="2.95" fill="#00bfbf"/>
<circle cx="461.43" cy="219.77" r="2.95" fill="#00bfbf"/>
<circle cx="469.01" cy="223.17" r="2.95" fill="#00bfbf"/>
<circle cx="476.59" cy="227.06" r="2.95" fill="#00bfbf"/>
<circle cx="484.17" cy="239.7" r="2.95" fill="#00bfbf"/>
<circle cx="487.96" cy="262.54" r="2.95" fill="#00bfbf"/>
<circle cx="491.75" cy="343.7" r="2.95" fill="#00bfbf"/>
<circle cx="510.7" cy="343.7" r="2.95" fill="#00bfbf"/>
</g>
<line x1="392.5" y1="222.2" x2="395.5" y2="222.2" stroke="#000" stroke-width="0.65"/>
<text x="367.65" y="226.32" font-size="10.51" letter-spacing="0.52" >0.25</text>
<line x1="392.5" y1="246.5" x2="395.5" y2="246.5" stroke="#000" stroke-width="0.65"/>
<text x="367.4" y="250.62" font-size="10.51" letter-spacing="0.58" >0.20</text>
<line x1="392.5" y1="270.8" x2="395.5" y2="270.8" stroke="#000" stroke-width="0.65"/>
<text x="367.65" y="274.92" font-size="10.51" letter-spacing="0.52" >0.15</text>
<line x1="392.5" y1="295.1" x2="395.5" y2="295.1" stroke="#000" stroke-width="0.65"/>
<text x="367.4" y="299.22" font-size="10.51" letter-spacing="0.58" >0.10</text>
<line x1="392.5" y1="319.4" x2="395.5" y2="319.4" stroke="#000" stroke-width="0.65"/>
<text x="367.65" y="323.52" font-size="10.51" letter-spacing="0.52" >0.05</text>
<line x1="392.5" y1="343.7" x2="395.5" y2="343.7" stroke="#000" stroke-width="0.65"/>
<text x="367.4" y="347.82" font-size="10.51" letter-spacing="0.58" >0.00</text>
<line x1="397" y1="350.8" x2="397" y2="353.8" stroke="#000" stroke-width="0.65"/>
<text x="394" y="363.6" font-size="10.51" letter-spacing="0" >0</text>
<line x1="472.8" y1="350.8" x2="472.8" y2="353.8" stroke="#000" stroke-width="0.65"/>
<text x="463.25" y="363.6" font-size="10.51" letter-spacing="0.73" >200</text>
<text x="414.95" y="375.6" font-size="10.51" letter-spacing="0.48" >Temperature (K)</text>
<g transform="translate(359.5,276.2) rotate(-90)"><text x="-57.62" y="0" font-size="10.4" letter-spacing="0.47" >Hall resistivity (</text>
<text x="21.05" y="0" font-size="10.4" font-style="italic" letter-spacing="0" >μ</text>
<text x="27.27" y="0" font-size="10.4" letter-spacing="0.52" >Ω.cm)</text></g>
<rect x="429.6" y="252.4" width="52.5" height="47.8" rx="2" fill="#fff" fill-opacity="0.8" stroke="#d6d6d6" stroke-width="0.9"/>
<line x1="433.1" y1="263.9" x2="454.5" y2="263.9" stroke="#ff0000" stroke-width="1.3"/>
<circle cx="443.9" cy="263.9" r="2.7" fill="#ff0000"/>
<text x="462.85" y="265.8" font-size="10.3" font-style="italic" letter-spacing="0" >ρ</text>
<text x="468.65" y="262.5" font-size="7.21" font-style="italic" letter-spacing="0" >T</text>
<text x="469.15" y="268.3" font-size="7.21" font-style="italic" letter-spacing="0.65" >xy</text>
<line x1="433.1" y1="286.5" x2="454.5" y2="286.5" stroke="#00bfbf" stroke-width="1.3"/>
<circle cx="443.9" cy="286.5" r="2.7" fill="#00bfbf"/>
<text x="462.85" y="288.4" font-size="10.3" font-style="italic" letter-spacing="0" >ρ</text>
<text x="468.85" y="285.1" font-size="7.21" font-style="italic" letter-spacing="0" >S</text>
<text x="469.15" y="290.9" font-size="7.21" font-style="italic" letter-spacing="0.65" >xy</text>
<rect x="395.5" y="202.5" width="121" height="148.3" fill="none" stroke="#000" stroke-width="0.65"/>
<text transform="translate(371.75,207.6) scale(1.0,1)" x="0" y="0" font-size="16" font-weight="bold">d</text>
<g clip-path="url(#ce)">
<path d="M567.79,225.54 L575.38,215.66 L582.98,210.23 L590.57,209.24 L598.15,209.24 L605.75,217.14 L613.34,224.55 L620.92,231.72 L628.51,235.17 L636.11,241.35 L643.7,246.78 L651.28,256.66 L655.08,276.42 L658.88,344.1 L677.85,344.1" fill="none" stroke="#00bfbf" stroke-width="1.3" stroke-linejoin="round" />
<circle cx="567.79" cy="225.54" r="2.95" fill="#00bfbf"/>
<circle cx="575.38" cy="215.66" r="2.95" fill="#00bfbf"/>
<circle cx="582.98" cy="210.23" r="2.95" fill="#00bfbf"/>
<circle cx="590.57" cy="209.24" r="2.95" fill="#00bfbf"/>
<circle cx="598.15" cy="209.24" r="2.95" fill="#00bfbf"/>
<circle cx="605.75" cy="217.14" r="2.95" fill="#00bfbf"/>
<circle cx="613.34" cy="224.55" r="2.95" fill="#00bfbf"/>
<circle cx="620.92" cy="231.72" r="2.95" fill="#00bfbf"/>
<circle cx="628.51" cy="235.17" r="2.95" fill="#00bfbf"/>
<circle cx="636.11" cy="241.35" r="2.95" fill="#00bfbf"/>
<circle cx="643.7" cy="246.78" r="2.95" fill="#00bfbf"/>
<circle cx="651.28" cy="256.66" r="2.95" fill="#00bfbf"/>
<circle cx="655.08" cy="276.42" r="2.95" fill="#00bfbf"/>
<circle cx="658.88" cy="344.1" r="2.95" fill="#00bfbf"/>
<circle cx="677.85" cy="344.1" r="2.95" fill="#00bfbf"/>
</g>
<line x1="559.9" y1="220.6" x2="562.9" y2="220.6" stroke="#000" stroke-width="0.65"/>
<text x="551.65" y="224.72" font-size="10.51" letter-spacing="0" >5</text>
<line x1="559.9" y1="245.3" x2="562.9" y2="245.3" stroke="#000" stroke-width="0.65"/>
<text x="551.2" y="249.42" font-size="10.51" letter-spacing="0" >4</text>
<line x1="559.9" y1="270" x2="562.9" y2="270" stroke="#000" stroke-width="0.65"/>
<text x="551.55" y="274.12" font-size="10.51" letter-spacing="0" >3</text>
<line x1="559.9" y1="294.7" x2="562.9" y2="294.7" stroke="#000" stroke-width="0.65"/>
<text x="551.65" y="298.82" font-size="10.51" letter-spacing="0" >2</text>
<line x1="559.9" y1="319.4" x2="562.9" y2="319.4" stroke="#000" stroke-width="0.65"/>
<text x="551.65" y="323.52" font-size="10.51" letter-spacing="0" >1</text>
<line x1="559.9" y1="344.1" x2="562.9" y2="344.1" stroke="#000" stroke-width="0.65"/>
<text x="551.3" y="348.22" font-size="10.51" letter-spacing="0" >0</text>
<line x1="564" y1="350.8" x2="564" y2="353.8" stroke="#000" stroke-width="0.65"/>
<text x="561" y="363.6" font-size="10.51" letter-spacing="0" >0</text>
<line x1="639.9" y1="350.8" x2="639.9" y2="353.8" stroke="#000" stroke-width="0.65"/>
<text x="630.35" y="363.6" font-size="10.51" letter-spacing="0.73" >200</text>
<text x="581.95" y="375.6" font-size="10.51" letter-spacing="0.48" >Temperature (K)</text>
<g transform="translate(537.8,277) rotate(-90)"><text x="-23.41" y="0" font-size="10.3" font-style="italic" letter-spacing="0" >σ</text>
<text x="-17.12" y="-3.3" font-size="7.21" font-style="italic" letter-spacing="0" >S</text>
<text x="-16.82" y="2.5" font-size="7.21" font-style="italic" letter-spacing="0.65" >xy</text>
<text x="-8.39" y="0" font-size="10.3" font-style="italic" letter-spacing="0.34" >(S/cm)</text></g>
<rect x="562.9" y="202.5" width="120.3" height="148.3" fill="none" stroke="#000" stroke-width="0.65"/>
<text transform="translate(536.8,208.3) scale(1.0,1)" x="0" y="0" font-size="16" font-weight="bold">e</text>
</svg></body></html>
